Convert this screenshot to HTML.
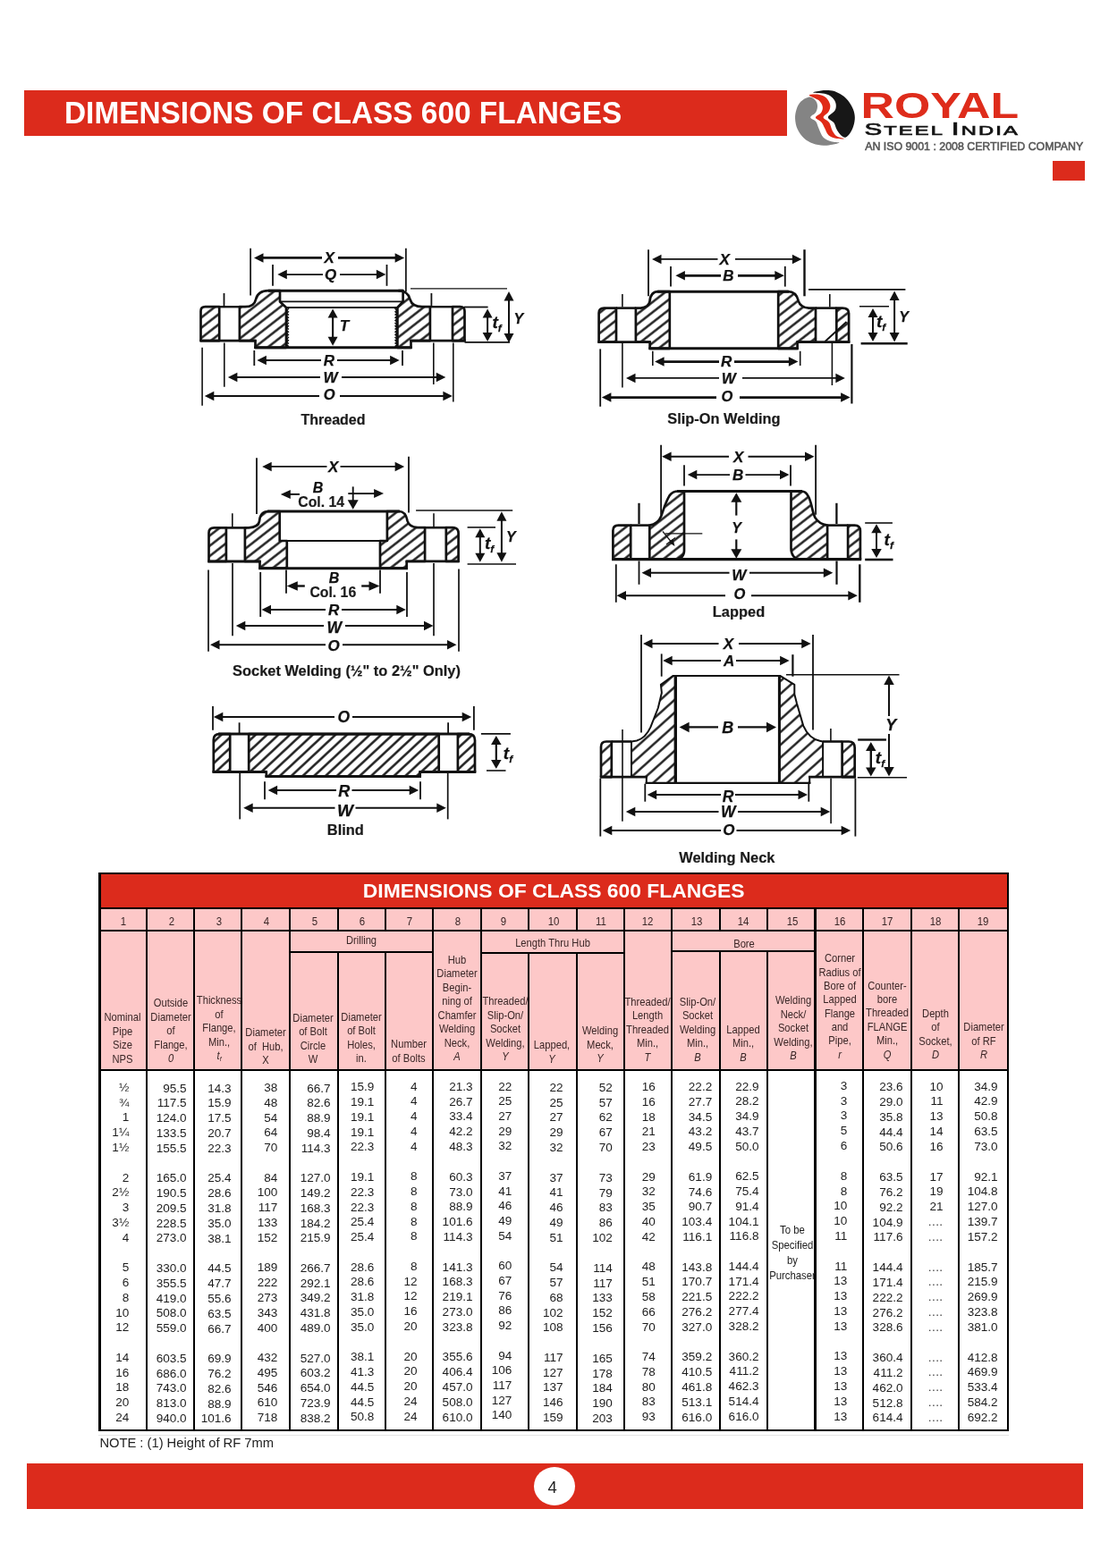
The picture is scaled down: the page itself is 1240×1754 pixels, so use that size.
<!DOCTYPE html>
<html lang="en">
<head>
<meta charset="utf-8">
<title>Dimensions of Class 600 Flanges</title>
<style>
html,body{margin:0;padding:0;background:#fff}
body{width:1240px;height:1754px;overflow:hidden;font-family:"Liberation Sans",sans-serif}
#page{position:relative;width:1240px;height:1754px;overflow:hidden;background:#fff;will-change:transform}
.b{position:absolute}
.t{position:absolute;margin:0;padding:0;white-space:nowrap;font-weight:normal;font-family:"Liberation Sans",sans-serif;color:#231f20}
.bold{font-weight:bold}
.h{color:#3a2626}
.it{font-style:italic}
.d{color:#1d1d1d}
.dots{letter-spacing:.4px;color:#444}
sub{font-size:60%;vertical-align:baseline;position:relative;top:.25em}
svg{position:absolute;left:0;top:0}
svg text{font-family:"Liberation Sans",sans-serif;stroke:none}
svg .bi{font-weight:bold;font-style:italic;fill:#111;stroke:#111;stroke-width:.25px}
svg .cap{font-weight:bold;fill:#1a1a1a;stroke:#1a1a1a;stroke-width:.2px}
svg .ah{stroke:none}
</style>
</head>
<body>
<div id="page">
<div class="b" style="left:27px;top:101px;width:853px;height:51px;background:#dc2b1c;"></div>
<h1 class="t bold" style="top:109.06px;font-size:34.9px;line-height:34.9px;left:72px;transform:scaleX(0.957);transform-origin:left center;color:#fff;">DIMENSIONS OF CLASS 600 FLANGES</h1>
<div class="b" style="left:1177px;top:180px;width:36px;height:21.5px;background:#dc2b1c;"></div>
<svg width="1240" height="1754" viewBox="0 0 1240 1754">
<g id="logo">
<path d="M903.95,108.69 C906.49,108.23 908.81,109.56 910.48,111.01 C912.15,112.46 913.66,115 913.96,117.4 C914.26,119.79 913.6,123.08 912.29,125.38 C910.99,127.68 906.12,129.43 906.12,131.19 C906.12,132.94 910.7,133.73 912.29,135.9 C913.89,138.08 914.31,141.29 915.7,144.25 C917.09,147.21 918.36,151.36 920.64,153.68 C922.91,156.01 926.38,157.22 929.35,158.18 C932.31,159.15 938.18,158.88 938.42,159.49 C938.66,160.09 933.76,161.27 930.8,161.81 C927.84,162.36 924.27,162.96 920.64,162.75 C917.01,162.55 912.66,161.97 909.03,160.58 C905.4,159.19 901.77,157.13 898.87,154.41 C895.97,151.69 893.24,147.88 891.61,144.25 C889.98,140.62 889.25,136.27 889.07,132.64 C888.89,129.01 889.49,125.62 890.52,122.48 C891.55,119.33 893,116.07 895.24,113.77 C897.48,111.47 901.41,109.15 903.95,108.69 Z" fill="#848484"/>
<path d="M909.03,103.61 C908.06,102.98 914.83,101.86 917.74,101.43 C920.64,101.01 923.54,100.83 926.44,101.07 C929.35,101.31 932.37,101.8 935.15,102.89 C937.93,103.97 940.72,105.67 943.13,107.6 C945.55,109.54 947.85,112.02 949.67,114.5 C951.48,116.98 952.99,119.7 954.02,122.48 C955.05,125.26 955.77,128.16 955.83,131.19 C955.9,134.21 955.23,137.72 954.38,140.62 C953.54,143.52 952.27,146.43 950.75,148.6 C949.24,150.78 947.19,153.38 945.31,153.68 C943.44,153.99 941.18,151.99 939.51,150.42 C937.84,148.85 936.48,146.46 935.3,144.25 C934.11,142.04 933.97,139.31 932.39,137.14 C930.82,134.96 925.67,133.45 925.86,131.19 C926.06,128.93 932.1,126.11 933.56,123.57 C935.01,121.03 935.01,118.31 934.57,115.95 C934.14,113.59 932.78,111.21 930.94,109.42 C929.1,107.63 927.19,106.18 923.54,105.21 C919.89,104.24 910,104.24 909.03,103.61 Z" fill="#171717"/>
<path d="M904.67,106.51 C904.79,105.45 913.08,105.45 916.28,105.93 C919.49,106.42 921.91,107.51 923.9,109.42 C925.9,111.33 927.84,114.8 928.26,117.4 C928.68,120 927.71,122.72 926.44,125.02 C925.17,127.32 920.52,129.19 920.64,131.19 C920.76,133.18 925.48,134.45 927.17,136.99 C928.86,139.53 929.35,143.83 930.8,146.43 C932.25,149.03 933.7,151.14 935.88,152.6 C938.06,154.05 944.1,154.76 943.86,155.13 C943.62,155.51 937.33,155.51 934.43,154.84 C931.52,154.18 928.5,153.09 926.44,151.14 C924.39,149.2 923.42,145.58 922.09,143.16 C920.76,140.74 920.15,138.57 918.46,136.63 C916.77,134.69 911.99,133.3 911.93,131.55 C911.87,129.8 916.79,128.16 918.1,126.11 C919.4,124.05 920.19,121.51 919.77,119.21 C919.34,116.92 918.07,114.44 915.56,112.32 C913.04,110.2 904.55,107.58 904.67,106.51 Z" fill="#e02a17"/>
<text x="962.6" y="131.6" font-size="40.6" font-weight="bold" textLength="176.5" lengthAdjust="spacingAndGlyphs" fill="#de2c1b">ROYAL</text>
<text x="966.4" y="151.4" font-size="15.4" letter-spacing="1.4" textLength="173.5" lengthAdjust="spacingAndGlyphs" fill="#141414" style="stroke:#141414;stroke-width:.7px"><tspan font-size="19.2">S</tspan>TEEL <tspan font-size="20.6">I</tspan>NDIA</text>
<text x="967.2" y="167.7" font-size="12.9" textLength="244" lengthAdjust="spacingAndGlyphs" fill="#585858" style="stroke:#585858;stroke-width:.6px">AN ISO 9001 : 2008 CERTIFIED COMPANY</text>
</g>
<defs><pattern id="hp" width="12" height="9" patternUnits="userSpaceOnUse" patternTransform="rotate(-38)"><rect width="12" height="9" fill="#fff"/><line x1="0" y1="4.5" x2="12" y2="4.5" stroke="#111" stroke-width="2.35"/></pattern><pattern id="hp2" width="12" height="8.7" patternUnits="userSpaceOnUse" patternTransform="rotate(-43)"><rect width="12" height="8.7" fill="#fff"/><line x1="0" y1="4.35" x2="12" y2="4.35" stroke="#111" stroke-width="2.4"/></pattern><pattern id="hp3" width="12" height="10.6" patternUnits="userSpaceOnUse" patternTransform="rotate(-42)"><rect width="12" height="10.6" fill="#fff"/><line x1="0" y1="5.3" x2="12" y2="5.3" stroke="#111" stroke-width="2.3"/></pattern></defs>
<g stroke="#111" fill="#111">
<g id="d-threaded">
<line x1="280.1" y1="277.7" x2="280.1" y2="330.5" stroke-width="1.7"/>
<line x1="453.9" y1="277.7" x2="453.9" y2="326" stroke-width="1.7"/>
<line x1="305" y1="296" x2="305" y2="319.8" stroke-width="1.8"/>
<line x1="432.5" y1="296" x2="432.5" y2="319.8" stroke-width="1.8"/>
<line x1="293.5" y1="288.4" x2="360" y2="288.4" stroke-width="2.8"/>
<line x1="378" y1="288.4" x2="442.6" y2="288.4" stroke-width="2.8"/>
<polygon class="ah" points="284,288.4 294.5,283.15 294.5,293.65"/>
<polygon class="ah" points="452.1,288.4 441.6,283.15 441.6,293.65"/>
<text class="bi" x="368.2" y="294.2" font-size="17" text-anchor="middle">X</text>
<line x1="319.8" y1="307.1" x2="361" y2="307.1" stroke-width="1.9"/>
<line x1="380" y1="307.1" x2="421.9" y2="307.1" stroke-width="1.9"/>
<polygon class="ah" points="310.3,307.1 320.8,301.85 320.8,312.35"/>
<polygon class="ah" points="431.4,307.1 420.9,301.85 420.9,312.35"/>
<text class="bi" x="369.6" y="312.8" font-size="17" text-anchor="middle">Q</text>
<path d="M224.5,381.1 L224.5,348 Q224.5,343.2 229.5,343.2 L245.2,343.2 L245.2,381.1 Z" fill="url(#hp)" stroke-width="2.7" stroke-linejoin="round"/>
<path d="M267.9,343.2 L274,343.2 C282,343.2 285,340 286,335 C287.5,329 292,325.2 300,325.2 L313,325.2 L313,337.4 L320,344 L320,388.8 L285.5,388.8 L285.5,381.1 L267.9,381.1 Z" fill="url(#hp)" stroke-width="2.7" stroke-linejoin="round"/>
<path d="M519.5,381.1 L519.5,348 Q519.5,343.2 514.5,343.2 L506,343.2 L506,381.1 Z" fill="url(#hp)" stroke-width="2.7" stroke-linejoin="round"/>
<path d="M480.9,343.2 L472,343.2 C464,343.2 460,340 458.5,335 C457,329 452.5,325.2 446,325.2 L450.6,325.2 L450.6,337.4 L444.4,344 L444.4,388.8 L459.5,388.8 L459.5,381.1 L480.9,381.1 Z" fill="url(#hp)" stroke-width="2.7" stroke-linejoin="round"/>
<path d="M320.6,344 l1.8,1.6 l-1.8,1.6 l1.8,1.6 l-1.8,1.6 l1.8,1.6 l-1.8,1.6 l1.8,1.6 l-1.8,1.6 l1.8,1.6 l-1.8,1.6 l1.8,1.6 l-1.8,1.6 l1.8,1.6 l-1.8,1.6 l1.8,1.6 l-1.8,1.6 l1.8,1.6 l-1.8,1.6 l1.8,1.6 l-1.8,1.6 l1.8,1.6 l-1.8,1.6 l1.8,1.6 l-1.8,1.6 l1.8,1.6 l-1.8,1.6 l1.8,1.6 l-1.8,1.6" fill="none" stroke-width="1.4"/>
<path d="M443.8,344 l-1.8,1.6 l1.8,1.6 l-1.8,1.6 l1.8,1.6 l-1.8,1.6 l1.8,1.6 l-1.8,1.6 l1.8,1.6 l-1.8,1.6 l1.8,1.6 l-1.8,1.6 l1.8,1.6 l-1.8,1.6 l1.8,1.6 l-1.8,1.6 l1.8,1.6 l-1.8,1.6 l1.8,1.6 l-1.8,1.6 l1.8,1.6 l-1.8,1.6 l1.8,1.6 l-1.8,1.6 l1.8,1.6 l-1.8,1.6 l1.8,1.6 l-1.8,1.6 l1.8,1.6" fill="none" stroke-width="1.4"/>
<line x1="300" y1="325.2" x2="450.6" y2="325.2" stroke-width="2.9"/>
<line x1="313" y1="337.4" x2="450.6" y2="337.4" stroke-width="1.8"/>
<line x1="320" y1="344" x2="444.4" y2="344" stroke-width="1.8"/>
<line x1="284.2" y1="388.8" x2="460.8" y2="388.8" stroke-width="2.9"/>
<line x1="245.2" y1="343.2" x2="267.9" y2="343.2" stroke-width="2.4"/>
<line x1="223.3" y1="381.1" x2="286.7" y2="381.1" stroke-width="2.6"/>
<line x1="480.9" y1="343.2" x2="506" y2="343.2" stroke-width="2.4"/>
<line x1="458.3" y1="381.1" x2="520.7" y2="381.1" stroke-width="2.6"/>
<line x1="250.5" y1="328" x2="250.5" y2="343" stroke-width="1.8"/>
<line x1="482.4" y1="328" x2="482.4" y2="343" stroke-width="1.8"/>
<line x1="372.1" y1="354.6" x2="372.1" y2="377.8" stroke-width="2"/>
<polygon class="ah" points="372.1,345.6 366.6,355.6 377.6,355.6"/>
<polygon class="ah" points="372.1,386.8 366.6,376.8 377.6,376.8"/>
<line x1="372.1" y1="354" x2="372.1" y2="378" stroke-width="2"/>
<text class="bi" x="384.9" y="369.6" font-size="17" text-anchor="middle">T</text>
<line x1="284.3" y1="392" x2="284.3" y2="409" stroke-width="1.8"/>
<line x1="450" y1="392" x2="450" y2="409" stroke-width="1.8"/>
<line x1="296.9" y1="403" x2="359" y2="403" stroke-width="2.2"/>
<line x1="377" y1="403" x2="437.1" y2="403" stroke-width="2.2"/>
<polygon class="ah" points="287.4,403 297.9,397.75 297.9,408.25"/>
<polygon class="ah" points="446.6,403 436.1,397.75 436.1,408.25"/>
<text class="bi" x="368" y="408.8" font-size="17" text-anchor="middle">R</text>
<line x1="250.8" y1="383.5" x2="250.8" y2="432.8" stroke-width="1.6"/>
<line x1="484.8" y1="383.5" x2="484.8" y2="430" stroke-width="1.6"/>
<line x1="264.4" y1="422" x2="358" y2="422" stroke-width="1.9"/>
<line x1="382" y1="422" x2="488.8" y2="422" stroke-width="1.9"/>
<polygon class="ah" points="254.9,422 265.4,416.75 265.4,427.25"/>
<polygon class="ah" points="498.3,422 487.8,416.75 487.8,427.25"/>
<text class="bi" x="369.6" y="427.8" font-size="17" text-anchor="middle">W</text>
<line x1="226.1" y1="388.7" x2="226.1" y2="453.8" stroke-width="1.6"/>
<line x1="506.8" y1="383.5" x2="506.8" y2="449.5" stroke-width="1.6"/>
<line x1="238.3" y1="442.9" x2="357" y2="442.9" stroke-width="2"/>
<line x1="380" y1="442.9" x2="496.4" y2="442.9" stroke-width="2"/>
<polygon class="ah" points="228.8,442.9 239.3,437.65 239.3,448.15"/>
<polygon class="ah" points="505.9,442.9 495.4,437.65 495.4,448.15"/>
<text class="bi" x="368.2" y="447" font-size="16.5" text-anchor="middle">O</text>
<line x1="459" y1="322.9" x2="567" y2="322.9" stroke-width="1.4"/>
<line x1="519" y1="343.5" x2="545.6" y2="343.5" stroke-width="1.8"/>
<line x1="519.5" y1="382.9" x2="570" y2="382.9" stroke-width="1.8"/>
<line x1="545.1" y1="354.4" x2="545.1" y2="372.9" stroke-width="2"/>
<polygon class="ah" points="545.1,345.4 539.6,355.4 550.6,355.4"/>
<polygon class="ah" points="545.1,381.9 539.6,371.9 550.6,371.9"/>
<line x1="569" y1="335.4" x2="569" y2="373.9" stroke-width="2"/>
<polygon class="ah" points="569,325.9 563.5,336.4 574.5,336.4"/>
<polygon class="ah" points="569,383.4 563.5,372.9 574.5,372.9"/>
<text class="bi" x="550.5" y="366.5" font-size="19">t<tspan font-size="11.78" dy="4.18">f</tspan></text>
<text class="bi" x="579.8" y="362" font-size="16" text-anchor="middle">Y</text>
<text class="cap" x="372.5" y="475" font-size="16" text-anchor="middle">Threaded</text>
</g>
<g id="d-slipon">
<line x1="725" y1="279.2" x2="725" y2="331.3" stroke-width="1.8"/>
<line x1="899.5" y1="279.2" x2="899.5" y2="331.3" stroke-width="2.4"/>
<line x1="750" y1="297.9" x2="750" y2="320.6" stroke-width="1.8"/>
<line x1="877.8" y1="297.9" x2="877.8" y2="320.6" stroke-width="1.8"/>
<line x1="738.5" y1="289.9" x2="802.5" y2="289.9" stroke-width="1.9"/>
<line x1="822" y1="289.9" x2="886.9" y2="289.9" stroke-width="1.9"/>
<polygon class="ah" points="729,289.9 739.5,284.65 739.5,295.15"/>
<polygon class="ah" points="896.4,289.9 885.9,284.65 885.9,295.15"/>
<text class="bi" x="810.2" y="295.6" font-size="17" text-anchor="middle">X</text>
<line x1="764.9" y1="308.3" x2="806" y2="308.3" stroke-width="2.8"/>
<line x1="825" y1="308.3" x2="867.3" y2="308.3" stroke-width="2.8"/>
<polygon class="ah" points="755.4,308.3 765.9,303.05 765.9,313.55"/>
<polygon class="ah" points="876.8,308.3 866.3,303.05 866.3,313.55"/>
<text class="bi" x="814.5" y="314" font-size="17" text-anchor="middle">B</text>
<path d="M669.6,382.6 L669.6,350 Q669.6,344.6 675.5,344.6 L689,344.6 L689,382.6 Z" fill="url(#hp)" stroke-width="2.7" stroke-linejoin="round"/>
<path d="M710.9,344.6 L716.3,344.6 C723,344 726,341.5 726.5,337 C727,331.5 729.5,326.2 736,326.2 L748.8,326.2 L748.8,389.8 L726.6,389.8 L726.6,382.6 L710.9,382.6 Z" fill="url(#hp)" stroke-width="2.7" stroke-linejoin="round"/>
<path d="M949.1,382.6 L949.1,350.5 Q949.1,344.6 942,344.6 L935.3,344.6 L935.3,382.6 Z" fill="url(#hp)" stroke-width="2.7" stroke-linejoin="round"/>
<path d="M912,344.6 L904.4,344.6 C897,344 894,341 892.9,337 C891.5,331 888,326.2 881,326.2 L870.2,326.2 L870.2,389.8 L891.6,389.8 L891.6,382.6 L912,382.6 Z" fill="url(#hp)" stroke-width="2.7" stroke-linejoin="round"/>
<line x1="922.5" y1="382" x2="946.5" y2="360" stroke-width="1.9"/>
<line x1="735" y1="326.2" x2="882" y2="326.2" stroke-width="2.9"/>
<line x1="725.3" y1="389.8" x2="892.9" y2="389.8" stroke-width="2.9"/>
<line x1="689" y1="344.6" x2="710.9" y2="344.6" stroke-width="2.6"/>
<line x1="668.3" y1="382.6" x2="727.8" y2="382.6" stroke-width="2.8"/>
<line x1="912" y1="344.6" x2="935.3" y2="344.6" stroke-width="2.6"/>
<line x1="890.4" y1="382.6" x2="950.4" y2="382.6" stroke-width="2.8"/>
<line x1="695.9" y1="329" x2="695.9" y2="343.5" stroke-width="1.6"/>
<line x1="927.8" y1="329" x2="927.8" y2="343.5" stroke-width="1.6"/>
<line x1="729.8" y1="392.8" x2="729.8" y2="409" stroke-width="1.6"/>
<line x1="894.7" y1="392.8" x2="894.7" y2="409" stroke-width="1.6"/>
<line x1="741.6" y1="404.6" x2="804" y2="404.6" stroke-width="2.6"/>
<line x1="821" y1="404.6" x2="882.9" y2="404.6" stroke-width="2.6"/>
<polygon class="ah" points="732.1,404.6 742.6,399.35 742.6,409.85"/>
<polygon class="ah" points="892.4,404.6 881.9,399.35 881.9,409.85"/>
<text class="bi" x="812.2" y="410.4" font-size="17" text-anchor="middle">R</text>
<line x1="695.9" y1="383.6" x2="695.9" y2="433.4" stroke-width="1.6"/>
<line x1="930.4" y1="383.6" x2="930.4" y2="431" stroke-width="1.6"/>
<line x1="709.5" y1="422.9" x2="804" y2="422.9" stroke-width="1.9"/>
<line x1="830" y1="422.9" x2="935.4" y2="422.9" stroke-width="1.9"/>
<polygon class="ah" points="700,422.9 710.5,417.65 710.5,428.15"/>
<polygon class="ah" points="944.9,422.9 934.4,417.65 934.4,428.15"/>
<text class="bi" x="814.8" y="428.7" font-size="17" text-anchor="middle">W</text>
<line x1="671.2" y1="390.4" x2="671.2" y2="454.8" stroke-width="1.8"/>
<line x1="952.4" y1="385" x2="952.4" y2="451.5" stroke-width="2.2"/>
<line x1="682.4" y1="444.6" x2="801" y2="444.6" stroke-width="2.6"/>
<line x1="827" y1="444.6" x2="941.1" y2="444.6" stroke-width="2.6"/>
<polygon class="ah" points="672.9,444.6 683.4,439.35 683.4,449.85"/>
<polygon class="ah" points="950.6,444.6 940.1,439.35 940.1,449.85"/>
<text class="bi" x="812.8" y="448.7" font-size="16.5" text-anchor="middle">O</text>
<line x1="904" y1="323.9" x2="1012.4" y2="323.9" stroke-width="1.6"/>
<line x1="961" y1="342.8" x2="994" y2="342.8" stroke-width="1.6"/>
<line x1="962.6" y1="384.2" x2="1014.7" y2="384.2" stroke-width="2.6"/>
<line x1="976" y1="354.1" x2="976" y2="372.9" stroke-width="2"/>
<polygon class="ah" points="976,345.1 970.5,355.1 981.5,355.1"/>
<polygon class="ah" points="976,381.9 970.5,371.9 981.5,371.9"/>
<line x1="1000.1" y1="335" x2="1000.1" y2="373.1" stroke-width="2"/>
<polygon class="ah" points="1000.1,325.5 994.6,336 1005.6,336"/>
<polygon class="ah" points="1000.1,382.6 994.6,372.1 1005.6,372.1"/>
<text class="bi" x="980" y="366" font-size="19">t<tspan font-size="11.78" dy="4.18">f</tspan></text>
<text class="bi" x="1010.6" y="359.8" font-size="16" text-anchor="middle">Y</text>
<text class="cap" x="809.4" y="473.6" font-size="16.4" text-anchor="middle">Slip-On Welding</text>
</g>
<g id="d-socket">
<line x1="287" y1="512.3" x2="287" y2="575.1" stroke-width="1.8"/>
<line x1="457" y1="510.7" x2="457" y2="573.5" stroke-width="1.8"/>
<line x1="302.7" y1="521.9" x2="365.5" y2="521.9" stroke-width="1.9"/>
<line x1="380.5" y1="521.9" x2="442.6" y2="521.9" stroke-width="1.9"/>
<polygon class="ah" points="293.2,521.9 303.7,516.65 303.7,527.15"/>
<polygon class="ah" points="452.1,521.9 441.6,516.65 441.6,527.15"/>
<text class="bi" x="372.6" y="527.7" font-size="17" text-anchor="middle">X</text>
<text class="bi" x="355.6" y="550.6" font-size="16" text-anchor="middle">B</text>
<text class="cap" x="359.2" y="567.4" font-size="15.8" text-anchor="middle">Col. 14</text>
<line x1="323.8" y1="552.9" x2="335" y2="552.9" stroke-width="1.9"/>
<polygon class="ah" points="313.8,552.9 324.8,547.9 324.8,557.9"/>
<line x1="389.3" y1="552.1" x2="419.1" y2="552.1" stroke-width="1.9"/>
<polygon class="ah" points="429.1,552.1 418.1,547.1 418.1,557.1"/>
<line x1="394.7" y1="544.4" x2="394.7" y2="560.2" stroke-width="1.9"/>
<polygon class="ah" points="394.7,569.7 388.7,559.2 400.7,559.2"/>
<path d="M233.5,628 L233.5,596 Q233.5,590.4 239.5,590.4 L252.9,590.4 L252.9,628 Z" fill="url(#hp)" stroke-width="2.7" stroke-linejoin="round"/>
<path d="M273.9,590.4 L278,590.4 C285,590 289.5,587.5 290,583 C290.5,577.5 293,572 300,572 L312.7,572 L312.7,605 L320.8,605 L320.8,635.6 L290.5,635.6 L290.5,628 L273.9,628 Z" fill="url(#hp)" stroke-width="2.7" stroke-linejoin="round"/>
<path d="M512.6,628 L512.6,596.5 Q512.6,590.2 506,590.2 L498.8,590.2 L498.8,628 Z" fill="url(#hp)" stroke-width="2.7" stroke-linejoin="round"/>
<path d="M475.1,590.2 L467,590.2 C460,589.5 456.5,587 455.5,582.5 C454.5,577 452,572 446,572 L432.9,572 L432.9,605 L425,605 L425,635.6 L454.7,635.6 L454.7,628 L475.1,628 Z" fill="url(#hp)" stroke-width="2.7" stroke-linejoin="round"/>
<line x1="299" y1="572" x2="447" y2="572" stroke-width="2.9"/>
<line x1="312.7" y1="605" x2="432.9" y2="605" stroke-width="2"/>
<line x1="289.2" y1="635.7" x2="456" y2="635.7" stroke-width="3.1"/>
<line x1="252.9" y1="590.4" x2="273.9" y2="590.4" stroke-width="2.6"/>
<line x1="232.2" y1="628" x2="291.7" y2="628" stroke-width="2.8"/>
<line x1="475.1" y1="590.2" x2="498.8" y2="590.2" stroke-width="2.6"/>
<line x1="453.5" y1="627.8" x2="513.9" y2="627.8" stroke-width="2.8"/>
<line x1="259.8" y1="574.3" x2="259.8" y2="590" stroke-width="1.6"/>
<line x1="485" y1="574.3" x2="485" y2="590" stroke-width="1.6"/>
<line x1="320" y1="637.5" x2="320" y2="663.8" stroke-width="1.8"/>
<line x1="425" y1="637.5" x2="425" y2="663.8" stroke-width="1.8"/>
<text class="bi" x="373.6" y="651.6" font-size="16" text-anchor="middle">B</text>
<text class="cap" x="372.3" y="667.6" font-size="15.8" text-anchor="middle">Col. 16</text>
<line x1="331.8" y1="655.5" x2="340.8" y2="655.5" stroke-width="2.4"/>
<polygon class="ah" points="320.8,655.5 332.8,650.25 332.8,660.75"/>
<line x1="404.2" y1="655.5" x2="413.5" y2="655.5" stroke-width="2.4"/>
<polygon class="ah" points="424.5,655.5 412.5,650.25 412.5,660.75"/>
<line x1="291.2" y1="640" x2="291.2" y2="690" stroke-width="1.8"/>
<line x1="455" y1="640" x2="455" y2="690" stroke-width="1.8"/>
<line x1="302" y1="682" x2="364" y2="682" stroke-width="2"/>
<line x1="382" y1="682" x2="444.3" y2="682" stroke-width="2"/>
<polygon class="ah" points="292.5,682 303,676.75 303,687.25"/>
<polygon class="ah" points="453.8,682 443.3,676.75 443.3,687.25"/>
<text class="bi" x="373.1" y="687.8" font-size="17" text-anchor="middle">R</text>
<line x1="260" y1="630" x2="260" y2="711.2" stroke-width="1.7"/>
<line x1="485" y1="630" x2="485" y2="711.2" stroke-width="1.7"/>
<line x1="273.3" y1="700" x2="362" y2="700" stroke-width="2"/>
<line x1="386" y1="700" x2="475" y2="700" stroke-width="2"/>
<polygon class="ah" points="263.8,700 274.3,694.75 274.3,705.25"/>
<polygon class="ah" points="484.5,700 474,694.75 474,705.25"/>
<text class="bi" x="373.8" y="707.6" font-size="17.5" text-anchor="middle">W</text>
<line x1="233" y1="637.5" x2="233" y2="728.8" stroke-width="1.7"/>
<line x1="513" y1="636.5" x2="513" y2="728.8" stroke-width="1.7"/>
<line x1="244.5" y1="721.3" x2="364" y2="721.3" stroke-width="2"/>
<line x1="383" y1="721.3" x2="501" y2="721.3" stroke-width="2"/>
<polygon class="ah" points="235,721.3 245.5,716.05 245.5,726.55"/>
<polygon class="ah" points="510.5,721.3 500,716.05 500,726.55"/>
<text class="bi" x="373.2" y="728" font-size="17" text-anchor="middle">O</text>
<line x1="465.1" y1="570.9" x2="573.2" y2="570.9" stroke-width="1.5"/>
<line x1="522.6" y1="589.9" x2="554" y2="589.9" stroke-width="1.6"/>
<line x1="522.6" y1="631" x2="577" y2="631" stroke-width="1.6"/>
<line x1="536.8" y1="600.2" x2="536.8" y2="619.7" stroke-width="2"/>
<polygon class="ah" points="536.8,591.2 531.3,601.2 542.3,601.2"/>
<polygon class="ah" points="536.8,628.7 531.3,618.7 542.3,618.7"/>
<line x1="560.9" y1="581.8" x2="560.9" y2="619.2" stroke-width="2"/>
<polygon class="ah" points="560.9,572.3 555.4,582.8 566.4,582.8"/>
<polygon class="ah" points="560.9,628.7 555.4,618.2 566.4,618.2"/>
<text class="bi" x="542" y="613.5" font-size="19">t<tspan font-size="11.78" dy="4.18">f</tspan></text>
<text class="bi" x="571.4" y="605.8" font-size="16" text-anchor="middle">Y</text>
<text class="cap" x="387.5" y="755.8" font-size="16.4" text-anchor="middle">Socket Welding (½" to 2½" Only)</text>
</g>
<g id="d-lapped">
<line x1="739.1" y1="497.7" x2="739.1" y2="575.8" stroke-width="1.8"/>
<line x1="912.1" y1="497.7" x2="912.1" y2="575.8" stroke-width="1.8"/>
<line x1="749.6" y1="510.7" x2="815" y2="510.7" stroke-width="1.9"/>
<line x1="836.5" y1="510.7" x2="901" y2="510.7" stroke-width="1.9"/>
<polygon class="ah" points="740.1,510.7 750.6,505.45 750.6,515.95"/>
<polygon class="ah" points="910.5,510.7 900,505.45 900,515.95"/>
<text class="bi" x="825.6" y="516.8" font-size="17" text-anchor="middle">X</text>
<line x1="765" y1="520.2" x2="765" y2="543.6" stroke-width="1.8"/>
<line x1="884" y1="520.2" x2="884" y2="543.6" stroke-width="1.8"/>
<line x1="778.3" y1="531.1" x2="816" y2="531.1" stroke-width="1.9"/>
<line x1="833.5" y1="531.1" x2="873" y2="531.1" stroke-width="1.9"/>
<polygon class="ah" points="768.8,531.1 779.3,525.85 779.3,536.35"/>
<polygon class="ah" points="882.5,531.1 872,525.85 872,536.35"/>
<text class="bi" x="825.2" y="536.9" font-size="17" text-anchor="middle">B</text>
<path d="M685.4,625.6 L685.4,593.5 Q685.4,587.6 691.5,587.6 L705.2,587.6 L705.2,625.6 Z" fill="url(#hp)" stroke-width="2.7" stroke-linejoin="round"/>
<path d="M726.3,587.6 C733,586.5 737,583 739,578 C742,570 744,562 748.6,554.4 C751,551 754,549.5 758.5,549.5 L765,549.5 L765,616 C765,622 761,625.6 756,625.6 L726.3,625.6 Z" fill="url(#hp)" stroke-width="2.7" stroke-linejoin="round"/>
<path d="M961.9,625.6 L961.9,594 Q961.9,587.6 955.5,587.6 L948.1,587.6 L948.1,625.6 Z" fill="url(#hp)" stroke-width="2.7" stroke-linejoin="round"/>
<path d="M925.1,587.6 C918,586.5 914,583.5 911.3,578.9 C909,574 908.5,570 907.5,566 C906,560 905,557 903.6,555 C902,551.5 899.5,549.5 896,549.5 L884.5,549.5 L884.5,613 C884.5,620 888,625.6 894,625.6 L925.1,625.6 Z" fill="url(#hp)" stroke-width="2.7" stroke-linejoin="round"/>
<line x1="757" y1="549.5" x2="897" y2="549.5" stroke-width="2.9"/>
<line x1="684.1" y1="625.7" x2="963.2" y2="625.7" stroke-width="3.2"/>
<line x1="705.2" y1="587.6" x2="726.3" y2="587.6" stroke-width="2.6"/>
<line x1="925.1" y1="587.6" x2="948.1" y2="587.6" stroke-width="2.6"/>
<line x1="714.5" y1="562.8" x2="714.5" y2="586" stroke-width="2.3"/>
<line x1="935.4" y1="562.8" x2="935.4" y2="586" stroke-width="2.3"/>
<line x1="823.3" y1="560.8" x2="823.3" y2="576.6" stroke-width="2.2"/>
<line x1="823.3" y1="603.4" x2="823.3" y2="615.3" stroke-width="2.2"/>
<polygon class="ah" points="823.3,551.3 817.3,561.8 829.3,561.8"/>
<polygon class="ah" points="823.3,624.8 817.3,614.3 829.3,614.3"/>
<text class="bi" x="823.6" y="595.8" font-size="16" text-anchor="middle">Y</text>
<line x1="744" y1="596.8" x2="785.3" y2="596.8" stroke-width="1.2"/>
<line x1="741" y1="594.5" x2="752" y2="608" stroke-width="1.2"/>
<line x1="745" y1="609" x2="755" y2="601.5" stroke-width="1.2"/>
<polygon class="ah" points="754.5,611 747.5,606.5 752.5,603"/>
<line x1="714.5" y1="627.5" x2="714.5" y2="653.8" stroke-width="1.8"/>
<line x1="935.5" y1="627.5" x2="935.5" y2="653.8" stroke-width="2.2"/>
<line x1="727" y1="640.8" x2="815.5" y2="640.8" stroke-width="2"/>
<line x1="838" y1="640.8" x2="921.8" y2="640.8" stroke-width="2"/>
<polygon class="ah" points="717.5,640.8 728,635.55 728,646.05"/>
<polygon class="ah" points="931.3,640.8 920.8,635.55 920.8,646.05"/>
<text class="bi" x="826.3" y="648.8" font-size="17" text-anchor="middle">W</text>
<line x1="688.8" y1="631.3" x2="688.8" y2="673.8" stroke-width="1.8"/>
<line x1="961.3" y1="631.3" x2="961.3" y2="673.8" stroke-width="2.4"/>
<line x1="699" y1="666.3" x2="811" y2="666.3" stroke-width="2"/>
<line x1="840" y1="666.3" x2="949.3" y2="666.3" stroke-width="2"/>
<polygon class="ah" points="689.5,666.3 700,661.05 700,671.55"/>
<polygon class="ah" points="958.8,666.3 948.3,661.05 948.3,671.55"/>
<text class="bi" x="826.9" y="670" font-size="16.5" text-anchor="middle">O</text>
<line x1="967.2" y1="585" x2="997.9" y2="585" stroke-width="1.6"/>
<line x1="967.2" y1="626" x2="998.5" y2="626" stroke-width="2.6"/>
<line x1="980" y1="595.2" x2="980" y2="615.1" stroke-width="2"/>
<polygon class="ah" points="980,586.2 974.25,596.2 985.75,596.2"/>
<polygon class="ah" points="980,624.1 974.25,614.1 985.75,614.1"/>
<text class="bi" x="988.6" y="609.5" font-size="19">t<tspan font-size="11.78" dy="4.18">f</tspan></text>
<text class="cap" x="826" y="690.2" font-size="16.4" text-anchor="middle">Lapped</text>
</g>
<g id="d-blind">
<line x1="238" y1="790" x2="238" y2="816.8" stroke-width="1.8"/>
<line x1="529.9" y1="790" x2="529.9" y2="816.8" stroke-width="1.8"/>
<line x1="248.3" y1="801.9" x2="374" y2="801.9" stroke-width="2"/>
<line x1="394" y1="801.9" x2="517.7" y2="801.9" stroke-width="2"/>
<polygon class="ah" points="238.8,801.9 249.3,796.65 249.3,807.15"/>
<polygon class="ah" points="527.2,801.9 516.7,796.65 516.7,807.15"/>
<text class="bi" x="384.4" y="807.8" font-size="17.5" text-anchor="middle">O</text>
<path d="M238.8,863.5 L238.8,827.5 Q238.8,821.1 245.5,821.1 L257.2,821.1 L257.2,863.5 Z" fill="url(#hp2)" stroke-width="2.7" stroke-linejoin="round"/>
<path d="M278.2,821.1 L490.7,821.1 L490.7,863.5 L469.7,863.5 L469.7,868.4 L297.8,868.4 L297.8,863.5 L278.2,863.5 Z" fill="url(#hp2)" stroke-width="2.7" stroke-linejoin="round"/>
<path d="M531,863.5 L531,828 Q531,821.1 524,821.1 L511.9,821.1 L511.9,863.5 Z" fill="url(#hp2)" stroke-width="2.7" stroke-linejoin="round"/>
<line x1="244" y1="821.1" x2="525" y2="821.1" stroke-width="3"/>
<line x1="296.5" y1="868.5" x2="471" y2="868.5" stroke-width="3"/>
<line x1="237.5" y1="863.5" x2="299" y2="863.5" stroke-width="2.9"/>
<line x1="468.4" y1="863.5" x2="532.3" y2="863.5" stroke-width="2.9"/>
<line x1="267.6" y1="808.3" x2="267.6" y2="820.6" stroke-width="1.8"/>
<line x1="501.1" y1="808.3" x2="501.1" y2="820.6" stroke-width="1.8"/>
<line x1="296" y1="874.2" x2="296" y2="894.2" stroke-width="1.8"/>
<line x1="470" y1="874.2" x2="470" y2="894.2" stroke-width="1.8"/>
<line x1="309.1" y1="883.9" x2="376" y2="883.9" stroke-width="2"/>
<line x1="393.5" y1="883.9" x2="458.7" y2="883.9" stroke-width="2"/>
<polygon class="ah" points="299.6,883.9 310.1,878.65 310.1,889.15"/>
<polygon class="ah" points="468.2,883.9 457.7,878.65 457.7,889.15"/>
<text class="bi" x="384.7" y="890.5" font-size="18" text-anchor="middle">R</text>
<line x1="268.2" y1="864.3" x2="268.2" y2="916.4" stroke-width="1.7"/>
<line x1="500.7" y1="864.3" x2="500.7" y2="916.4" stroke-width="1.7"/>
<line x1="281.7" y1="903.7" x2="374.5" y2="903.7" stroke-width="2"/>
<line x1="397.5" y1="903.7" x2="489.3" y2="903.7" stroke-width="2"/>
<polygon class="ah" points="272.2,903.7 282.7,898.45 282.7,908.95"/>
<polygon class="ah" points="498.8,903.7 488.3,898.45 488.3,908.95"/>
<text class="bi" x="385.9" y="912.6" font-size="19" text-anchor="middle">W</text>
<line x1="537.9" y1="820.9" x2="570.9" y2="820.9" stroke-width="1.6"/>
<line x1="544" y1="862" x2="565.5" y2="862" stroke-width="1.6"/>
<line x1="554.8" y1="831.9" x2="554.8" y2="851" stroke-width="2.2"/>
<polygon class="ah" points="554.8,822.9 549.05,832.9 560.55,832.9"/>
<polygon class="ah" points="554.8,860 549.05,850 560.55,850"/>
<text class="bi" x="562.8" y="848.5" font-size="19">t<tspan font-size="11.78" dy="4.18">f</tspan></text>
<text class="cap" x="386.3" y="934" font-size="16.4" text-anchor="middle">Blind</text>
</g>
<g id="d-weldneck">
<line x1="717" y1="710" x2="717" y2="819.5" stroke-width="1.8"/>
<line x1="909" y1="710" x2="909" y2="816.5" stroke-width="1.8"/>
<line x1="728.5" y1="719.9" x2="803.5" y2="719.9" stroke-width="2"/>
<line x1="826" y1="719.9" x2="897.2" y2="719.9" stroke-width="2"/>
<polygon class="ah" points="719,719.9 729.5,714.65 729.5,725.15"/>
<polygon class="ah" points="906.7,719.9 896.2,714.65 896.2,725.15"/>
<text class="bi" x="814.4" y="725.5" font-size="17" text-anchor="middle">X</text>
<line x1="739.7" y1="731.4" x2="739.7" y2="756.7" stroke-width="1.8"/>
<line x1="886.4" y1="732.2" x2="886.4" y2="756.7" stroke-width="2.2"/>
<line x1="750.7" y1="739.1" x2="806" y2="739.1" stroke-width="2"/>
<line x1="823" y1="739.1" x2="873.1" y2="739.1" stroke-width="2"/>
<polygon class="ah" points="741.2,739.1 751.7,733.85 751.7,744.35"/>
<polygon class="ah" points="882.6,739.1 872.1,733.85 872.1,744.35"/>
<text class="bi" x="815.1" y="745.3" font-size="17" text-anchor="middle">A</text>
<path d="M672,869.1 L672,835.5 Q672,829.5 678,829.5 L683.8,829.5 L683.8,869.1 Z" fill="url(#hp3)" stroke-width="2.7" stroke-linejoin="round"/>
<path d="M706,829.5 L712,828.5 C719,826.5 724,821 727.4,813.4 L735.8,792 L739.9,775 L738.9,765.9 L752.7,755.9 L755.3,755.9 L755.3,875.9 L722.8,875.9 L722.8,869.1 L706,869.1 Z" fill="url(#hp3)" stroke-width="2" stroke-linejoin="round"/>
<path d="M955.7,869.1 L955.7,836.5 Q955.7,829.5 949,829.5 L941.6,829.5 L941.6,869.1 Z" fill="url(#hp3)" stroke-width="2.7" stroke-linejoin="round"/>
<path d="M920.1,829.5 L916.6,828.7 C908,827 902,820.5 898.2,811.9 L891,787 L888.3,776.6 L888.3,765.9 L872.2,755.9 L871.4,755.9 L871.4,875.9 L905.2,875.9 L905.2,869.1 L920.1,869.1 Z" fill="url(#hp3)" stroke-width="2" stroke-linejoin="round"/>
<line x1="755.3" y1="755" x2="755.3" y2="876.5" stroke-width="3.4"/>
<line x1="871.4" y1="755" x2="871.4" y2="876.5" stroke-width="3"/>
<line x1="752.5" y1="755.9" x2="873" y2="755.9" stroke-width="2"/>
<line x1="721.6" y1="875.9" x2="906.4" y2="875.9" stroke-width="2.4"/>
<line x1="683.8" y1="829.5" x2="706" y2="829.5" stroke-width="2.6"/>
<line x1="670.8" y1="869.1" x2="724" y2="869.1" stroke-width="2.6"/>
<line x1="920.1" y1="829.5" x2="941.6" y2="829.5" stroke-width="2.6"/>
<line x1="904" y1="869.1" x2="957" y2="869.1" stroke-width="2.6"/>
<line x1="696" y1="816" x2="696" y2="869" stroke-width="1.6"/>
<line x1="928.9" y1="814.9" x2="928.9" y2="829" stroke-width="1.6"/>
<line x1="769.6" y1="813.4" x2="803" y2="813.4" stroke-width="2.4"/>
<line x1="825" y1="813.4" x2="858" y2="813.4" stroke-width="2.4"/>
<polygon class="ah" points="759.6,813.4 770.6,807.65 770.6,819.15"/>
<polygon class="ah" points="868,813.4 857,807.65 857,819.15"/>
<text class="bi" x="813.8" y="819.8" font-size="18" text-anchor="middle">B</text>
<line x1="721.3" y1="876.8" x2="721.3" y2="896.7" stroke-width="1.8"/>
<line x1="904.3" y1="876.8" x2="904.3" y2="896.7" stroke-width="1.8"/>
<line x1="733.2" y1="889" x2="806" y2="889" stroke-width="2"/>
<line x1="822" y1="889" x2="893.5" y2="889" stroke-width="2"/>
<polygon class="ah" points="723.7,889 734.2,883.75 734.2,894.25"/>
<polygon class="ah" points="903,889 892.5,883.75 892.5,894.25"/>
<text class="bi" x="814" y="897.3" font-size="17.5" text-anchor="middle">R</text>
<line x1="695.9" y1="869" x2="695.9" y2="918.8" stroke-width="1.6"/>
<line x1="929.1" y1="870.6" x2="929.1" y2="921.2" stroke-width="1.6"/>
<line x1="709.3" y1="908" x2="803.5" y2="908" stroke-width="2"/>
<line x1="825" y1="908" x2="918.7" y2="908" stroke-width="2"/>
<polygon class="ah" points="699.8,908 710.3,902.75 710.3,913.25"/>
<polygon class="ah" points="928.2,908 917.7,902.75 917.7,913.25"/>
<text class="bi" x="814.2" y="913.6" font-size="17.5" text-anchor="middle">W</text>
<line x1="671.3" y1="870.6" x2="671.3" y2="935.6" stroke-width="1.8"/>
<line x1="956.4" y1="870.6" x2="956.4" y2="935.6" stroke-width="1.8"/>
<line x1="683.3" y1="928.9" x2="806" y2="928.9" stroke-width="2"/>
<line x1="823.5" y1="928.9" x2="941.6" y2="928.9" stroke-width="2"/>
<polygon class="ah" points="673.8,928.9 684.3,923.65 684.3,934.15"/>
<polygon class="ah" points="951.1,928.9 940.6,923.65 940.6,934.15"/>
<text class="bi" x="814.8" y="933.8" font-size="17" text-anchor="middle">O</text>
<line x1="879" y1="754.7" x2="1005.5" y2="754.7" stroke-width="1.5"/>
<line x1="959.2" y1="827.5" x2="990.9" y2="827.5" stroke-width="2.4"/>
<line x1="958.8" y1="869.7" x2="1014" y2="869.7" stroke-width="1.6"/>
<line x1="973.8" y1="839" x2="973.8" y2="859.6" stroke-width="2.4"/>
<polygon class="ah" points="973.8,830 968.05,840 979.55,840"/>
<polygon class="ah" points="973.8,868.6 968.05,858.6 979.55,858.6"/>
<line x1="994" y1="765" x2="994" y2="801.1" stroke-width="2"/>
<line x1="994" y1="821" x2="994" y2="859.1" stroke-width="2"/>
<polygon class="ah" points="994,755.5 988.25,766 999.75,766"/>
<polygon class="ah" points="994,868.6 988.25,858.1 999.75,858.1"/>
<text class="bi" x="996.2" y="816.6" font-size="18" text-anchor="middle">Y</text>
<text class="bi" x="978.8" y="853.5" font-size="19">t<tspan font-size="11.78" dy="4.18">f</tspan></text>
<text class="cap" x="812.8" y="964.7" font-size="16.4" text-anchor="middle">Welding Neck</text>
</g>
</g>
</svg>
<div class="b" style="left:110px;top:976px;width:1018px;height:624.5px;background:#fff;"></div>
<div class="b" style="left:110px;top:976px;width:1018px;height:40px;background:#dc2b1c;"></div>
<div class="b" style="left:110px;top:1016px;width:1018px;height:181px;background:#fdc8c8;"></div>
<div class="b" style="left:110px;top:975.75px;width:1018px;height:2.25px;background:#000;"></div>
<div class="b" style="left:110px;top:975.75px;width:3px;height:624.75px;background:#000;"></div>
<div class="b" style="left:1126.2px;top:975.75px;width:1.8px;height:624.75px;background:#000;"></div>
<div class="b" style="left:110px;top:1598.75px;width:1018px;height:1.75px;background:#000;"></div>
<div class="b" style="left:110px;top:1604.6px;width:1018px;height:0.8px;background:#e4e4e4;"></div>
<div class="b" style="left:110px;top:1015px;width:1018px;height:1.8px;background:#000;"></div>
<div class="b" style="left:110px;top:1040px;width:1018px;height:1.8px;background:#000;"></div>
<div class="b" style="left:110px;top:1195.75px;width:1018px;height:1.75px;background:#000;"></div>
<div class="b" style="left:324px;top:1064.2px;width:160px;height:1.8px;background:#000;"></div>
<div class="b" style="left:537.75px;top:1064.9px;width:160.25px;height:1.8px;background:#000;"></div>
<div class="b" style="left:751px;top:1062.9px;width:160.5px;height:1.8px;background:#000;"></div>
<div class="b" style="left:163px;top:1016px;width:2px;height:583px;background:#000;"></div>
<div class="b" style="left:216px;top:1016px;width:2px;height:583px;background:#000;"></div>
<div class="b" style="left:269px;top:1016px;width:2px;height:583px;background:#000;"></div>
<div class="b" style="left:323px;top:1016px;width:2px;height:583px;background:#000;"></div>
<div class="b" style="left:377px;top:1016px;width:2px;height:25px;background:#000;"></div>
<div class="b" style="left:377px;top:1065px;width:2px;height:534px;background:#000;"></div>
<div class="b" style="left:430px;top:1016px;width:2px;height:25px;background:#000;"></div>
<div class="b" style="left:430px;top:1065px;width:2px;height:534px;background:#000;"></div>
<div class="b" style="left:483px;top:1016px;width:2px;height:583px;background:#000;"></div>
<div class="b" style="left:537px;top:1016px;width:2px;height:583px;background:#000;"></div>
<div class="b" style="left:590px;top:1016px;width:2px;height:25px;background:#000;"></div>
<div class="b" style="left:590px;top:1065.5px;width:2px;height:533.5px;background:#000;"></div>
<div class="b" style="left:644px;top:1016px;width:2px;height:25px;background:#000;"></div>
<div class="b" style="left:644px;top:1065.5px;width:2px;height:533.5px;background:#000;"></div>
<div class="b" style="left:697px;top:1016px;width:2px;height:583px;background:#000;"></div>
<div class="b" style="left:750px;top:1016px;width:2px;height:583px;background:#000;"></div>
<div class="b" style="left:804px;top:1016px;width:2px;height:25px;background:#000;"></div>
<div class="b" style="left:804px;top:1063.5px;width:2px;height:535.5px;background:#000;"></div>
<div class="b" style="left:857px;top:1016px;width:2px;height:25px;background:#000;"></div>
<div class="b" style="left:857px;top:1063.5px;width:2px;height:535.5px;background:#000;"></div>
<div class="b" style="left:910px;top:1016px;width:3px;height:583px;background:#000;"></div>
<div class="b" style="left:964px;top:1016px;width:2px;height:583px;background:#000;"></div>
<div class="b" style="left:1018px;top:1016px;width:2px;height:583px;background:#000;"></div>
<div class="b" style="left:1071px;top:1016px;width:2px;height:583px;background:#000;"></div>
<h2 class="t bold" style="top:984.94px;font-size:22.87px;line-height:22.87px;left:619.2px;transform:translateX(-50%);transform-origin:center center;color:#fff;">DIMENSIONS OF CLASS 600 FLANGES</h2>
<span class="t h" style="top:1024px;font-size:13px;line-height:13px;left:138.25px;transform:translateX(-50%) scaleX(0.88);transform-origin:center center;">1</span>
<span class="t h" style="top:1024px;font-size:13px;line-height:13px;left:191.75px;transform:translateX(-50%) scaleX(0.88);transform-origin:center center;">2</span>
<span class="t h" style="top:1024px;font-size:13px;line-height:13px;left:244.5px;transform:translateX(-50%) scaleX(0.88);transform-origin:center center;">3</span>
<span class="t h" style="top:1024px;font-size:13px;line-height:13px;left:298.25px;transform:translateX(-50%) scaleX(0.88);transform-origin:center center;">4</span>
<span class="t h" style="top:1024px;font-size:13px;line-height:13px;left:351.75px;transform:translateX(-50%) scaleX(0.88);transform-origin:center center;">5</span>
<span class="t h" style="top:1024px;font-size:13px;line-height:13px;left:405px;transform:translateX(-50%) scaleX(0.88);transform-origin:center center;">6</span>
<span class="t h" style="top:1024px;font-size:13px;line-height:13px;left:457.5px;transform:translateX(-50%) scaleX(0.88);transform-origin:center center;">7</span>
<span class="t h" style="top:1024px;font-size:13px;line-height:13px;left:511.75px;transform:translateX(-50%) scaleX(0.88);transform-origin:center center;">8</span>
<span class="t h" style="top:1024px;font-size:13px;line-height:13px;left:562.5px;transform:translateX(-50%) scaleX(0.88);transform-origin:center center;">9</span>
<span class="t h" style="top:1024px;font-size:13px;line-height:13px;left:619.25px;transform:translateX(-50%) scaleX(0.88);transform-origin:center center;">10</span>
<span class="t h" style="top:1024px;font-size:13px;line-height:13px;left:672px;transform:translateX(-50%) scaleX(0.88);transform-origin:center center;">11</span>
<span class="t h" style="top:1024px;font-size:13px;line-height:13px;left:724.25px;transform:translateX(-50%) scaleX(0.88);transform-origin:center center;">12</span>
<span class="t h" style="top:1024px;font-size:13px;line-height:13px;left:778.75px;transform:translateX(-50%) scaleX(0.88);transform-origin:center center;">13</span>
<span class="t h" style="top:1024px;font-size:13px;line-height:13px;left:831.25px;transform:translateX(-50%) scaleX(0.88);transform-origin:center center;">14</span>
<span class="t h" style="top:1024px;font-size:13px;line-height:13px;left:885.75px;transform:translateX(-50%) scaleX(0.88);transform-origin:center center;">15</span>
<span class="t h" style="top:1024px;font-size:13px;line-height:13px;left:938.75px;transform:translateX(-50%) scaleX(0.88);transform-origin:center center;">16</span>
<span class="t h" style="top:1024px;font-size:13px;line-height:13px;left:991.75px;transform:translateX(-50%) scaleX(0.88);transform-origin:center center;">17</span>
<span class="t h" style="top:1024px;font-size:13px;line-height:13px;left:1046.25px;transform:translateX(-50%) scaleX(0.88);transform-origin:center center;">18</span>
<span class="t h" style="top:1024px;font-size:13px;line-height:13px;left:1099.25px;transform:translateX(-50%) scaleX(0.88);transform-origin:center center;">19</span>
<span class="t h" style="top:1044.96px;font-size:13.4px;line-height:13.4px;left:404px;transform:translateX(-50%) scaleX(0.835);transform-origin:center center;">Drilling</span>
<span class="t h" style="top:1048.26px;font-size:13.4px;line-height:13.4px;left:618px;transform:translateX(-50%) scaleX(0.835);transform-origin:center center;">Length Thru Hub</span>
<span class="t h" style="top:1048.66px;font-size:13.4px;line-height:13.4px;left:831.8px;transform:translateX(-50%) scaleX(0.835);transform-origin:center center;">Bore</span>
<span class="t h" style="top:1131.16px;font-size:13.4px;line-height:13.4px;left:137.3px;transform:translateX(-50%) scaleX(0.835);transform-origin:center center;">Nominal</span>
<span class="t h" style="top:1146.66px;font-size:13.4px;line-height:13.4px;left:137.3px;transform:translateX(-50%) scaleX(0.835);transform-origin:center center;">Pipe</span>
<span class="t h" style="top:1162.16px;font-size:13.4px;line-height:13.4px;left:137.3px;transform:translateX(-50%) scaleX(0.835);transform-origin:center center;">Size</span>
<span class="t h" style="top:1177.66px;font-size:13.4px;line-height:13.4px;left:137.3px;transform:translateX(-50%) scaleX(0.835);transform-origin:center center;">NPS</span>
<span class="t h" style="top:1115.06px;font-size:13.4px;line-height:13.4px;left:191.2px;transform:translateX(-50%) scaleX(0.835);transform-origin:center center;">Outside</span>
<span class="t h" style="top:1130.56px;font-size:13.4px;line-height:13.4px;left:191.2px;transform:translateX(-50%) scaleX(0.835);transform-origin:center center;">Diameter</span>
<span class="t h" style="top:1146.06px;font-size:13.4px;line-height:13.4px;left:191.2px;transform:translateX(-50%) scaleX(0.835);transform-origin:center center;">of</span>
<span class="t h" style="top:1161.56px;font-size:13.4px;line-height:13.4px;left:191.2px;transform:translateX(-50%) scaleX(0.835);transform-origin:center center;">Flange,</span>
<span class="t h it" style="top:1177.06px;font-size:13.4px;line-height:13.4px;left:191.2px;transform:translateX(-50%) scaleX(0.835);transform-origin:center center;">0</span>
<span class="t h" style="top:1112.26px;font-size:13.4px;line-height:13.4px;left:245px;transform:translateX(-50%) scaleX(0.835);transform-origin:center center;">Thickness</span>
<span class="t h" style="top:1127.76px;font-size:13.4px;line-height:13.4px;left:245px;transform:translateX(-50%) scaleX(0.835);transform-origin:center center;">of</span>
<span class="t h" style="top:1143.26px;font-size:13.4px;line-height:13.4px;left:245px;transform:translateX(-50%) scaleX(0.835);transform-origin:center center;">Flange,</span>
<span class="t h" style="top:1158.76px;font-size:13.4px;line-height:13.4px;left:245px;transform:translateX(-50%) scaleX(0.835);transform-origin:center center;">Min.,</span>
<span class="t h it" style="left:245px;top:1174.26px;font-size:13.4px;line-height:13.4px;transform:translateX(-50%) scaleX(.835)">t<sub>f</sub></span>
<span class="t h" style="top:1148.26px;font-size:13.4px;line-height:13.4px;left:297px;transform:translateX(-50%) scaleX(0.835);transform-origin:center center;">Diameter</span>
<span class="t h" style="top:1163.76px;font-size:13.4px;line-height:13.4px;left:297px;transform:translateX(-50%) scaleX(0.835);transform-origin:center center;">of  Hub,</span>
<span class="t h" style="top:1179.26px;font-size:13.4px;line-height:13.4px;left:297px;transform:translateX(-50%) scaleX(0.835);transform-origin:center center;">X</span>
<span class="t h" style="top:1131.56px;font-size:13.4px;line-height:13.4px;left:350px;transform:translateX(-50%) scaleX(0.835);transform-origin:center center;">Diameter</span>
<span class="t h" style="top:1147.06px;font-size:13.4px;line-height:13.4px;left:350px;transform:translateX(-50%) scaleX(0.835);transform-origin:center center;">of Bolt</span>
<span class="t h" style="top:1162.56px;font-size:13.4px;line-height:13.4px;left:350px;transform:translateX(-50%) scaleX(0.835);transform-origin:center center;">Circle</span>
<span class="t h" style="top:1178.06px;font-size:13.4px;line-height:13.4px;left:350px;transform:translateX(-50%) scaleX(0.835);transform-origin:center center;">W</span>
<span class="t h" style="top:1130.76px;font-size:13.4px;line-height:13.4px;left:403.5px;transform:translateX(-50%) scaleX(0.835);transform-origin:center center;">Diameter</span>
<span class="t h" style="top:1146.26px;font-size:13.4px;line-height:13.4px;left:403.5px;transform:translateX(-50%) scaleX(0.835);transform-origin:center center;">of Bolt</span>
<span class="t h" style="top:1161.76px;font-size:13.4px;line-height:13.4px;left:403.5px;transform:translateX(-50%) scaleX(0.835);transform-origin:center center;">Holes,</span>
<span class="t h" style="top:1177.26px;font-size:13.4px;line-height:13.4px;left:403.5px;transform:translateX(-50%) scaleX(0.835);transform-origin:center center;">in.</span>
<span class="t h" style="top:1160.86px;font-size:13.4px;line-height:13.4px;left:456.5px;transform:translateX(-50%) scaleX(0.835);transform-origin:center center;">Number</span>
<span class="t h" style="top:1176.76px;font-size:13.4px;line-height:13.4px;left:456.5px;transform:translateX(-50%) scaleX(0.835);transform-origin:center center;">of Bolts</span>
<span class="t h" style="top:1066.76px;font-size:13.4px;line-height:13.4px;left:511px;transform:translateX(-50%) scaleX(0.835);transform-origin:center center;">Hub</span>
<span class="t h" style="top:1082.26px;font-size:13.4px;line-height:13.4px;left:511px;transform:translateX(-50%) scaleX(0.835);transform-origin:center center;">Diameter</span>
<span class="t h" style="top:1097.76px;font-size:13.4px;line-height:13.4px;left:511px;transform:translateX(-50%) scaleX(0.835);transform-origin:center center;">Begin-</span>
<span class="t h" style="top:1113.26px;font-size:13.4px;line-height:13.4px;left:511px;transform:translateX(-50%) scaleX(0.835);transform-origin:center center;">ning of</span>
<span class="t h" style="top:1128.76px;font-size:13.4px;line-height:13.4px;left:511px;transform:translateX(-50%) scaleX(0.835);transform-origin:center center;">Chamfer</span>
<span class="t h" style="top:1144.26px;font-size:13.4px;line-height:13.4px;left:511px;transform:translateX(-50%) scaleX(0.835);transform-origin:center center;">Welding</span>
<span class="t h" style="top:1159.76px;font-size:13.4px;line-height:13.4px;left:511px;transform:translateX(-50%) scaleX(0.835);transform-origin:center center;">Neck,</span>
<span class="t h it" style="top:1175.26px;font-size:13.4px;line-height:13.4px;left:511px;transform:translateX(-50%) scaleX(0.835);transform-origin:center center;">A</span>
<span class="t h" style="top:1113.06px;font-size:13.4px;line-height:13.4px;left:565px;transform:translateX(-50%) scaleX(0.835);transform-origin:center center;">Threaded/</span>
<span class="t h" style="top:1128.56px;font-size:13.4px;line-height:13.4px;left:565px;transform:translateX(-50%) scaleX(0.835);transform-origin:center center;">Slip-On/</span>
<span class="t h" style="top:1144.06px;font-size:13.4px;line-height:13.4px;left:565px;transform:translateX(-50%) scaleX(0.835);transform-origin:center center;">Socket</span>
<span class="t h" style="top:1159.56px;font-size:13.4px;line-height:13.4px;left:565px;transform:translateX(-50%) scaleX(0.835);transform-origin:center center;">Welding,</span>
<span class="t h it" style="top:1175.06px;font-size:13.4px;line-height:13.4px;left:565px;transform:translateX(-50%) scaleX(0.835);transform-origin:center center;">Y</span>
<span class="t h" style="top:1162.46px;font-size:13.4px;line-height:13.4px;left:617px;transform:translateX(-50%) scaleX(0.835);transform-origin:center center;">Lapped,</span>
<span class="t h it" style="top:1177.76px;font-size:13.4px;line-height:13.4px;left:617px;transform:translateX(-50%) scaleX(0.835);transform-origin:center center;">Y</span>
<span class="t h" style="top:1146.26px;font-size:13.4px;line-height:13.4px;left:671px;transform:translateX(-50%) scaleX(0.835);transform-origin:center center;">Welding</span>
<span class="t h" style="top:1161.76px;font-size:13.4px;line-height:13.4px;left:671px;transform:translateX(-50%) scaleX(0.835);transform-origin:center center;">Meck,</span>
<span class="t h it" style="top:1177.26px;font-size:13.4px;line-height:13.4px;left:671px;transform:translateX(-50%) scaleX(0.835);transform-origin:center center;">Y</span>
<span class="t h" style="top:1113.66px;font-size:13.4px;line-height:13.4px;left:724px;transform:translateX(-50%) scaleX(0.835);transform-origin:center center;">Threaded/</span>
<span class="t h" style="top:1129.16px;font-size:13.4px;line-height:13.4px;left:724px;transform:translateX(-50%) scaleX(0.835);transform-origin:center center;">Length</span>
<span class="t h" style="top:1144.66px;font-size:13.4px;line-height:13.4px;left:724px;transform:translateX(-50%) scaleX(0.835);transform-origin:center center;">Threaded</span>
<span class="t h" style="top:1160.16px;font-size:13.4px;line-height:13.4px;left:724px;transform:translateX(-50%) scaleX(0.835);transform-origin:center center;">Min.,</span>
<span class="t h it" style="top:1175.66px;font-size:13.4px;line-height:13.4px;left:724px;transform:translateX(-50%) scaleX(0.835);transform-origin:center center;">T</span>
<span class="t h" style="top:1113.66px;font-size:13.4px;line-height:13.4px;left:780px;transform:translateX(-50%) scaleX(0.835);transform-origin:center center;">Slip-On/</span>
<span class="t h" style="top:1129.16px;font-size:13.4px;line-height:13.4px;left:780px;transform:translateX(-50%) scaleX(0.835);transform-origin:center center;">Socket</span>
<span class="t h" style="top:1144.66px;font-size:13.4px;line-height:13.4px;left:780px;transform:translateX(-50%) scaleX(0.835);transform-origin:center center;">Welding</span>
<span class="t h" style="top:1160.16px;font-size:13.4px;line-height:13.4px;left:780px;transform:translateX(-50%) scaleX(0.835);transform-origin:center center;">Min.,</span>
<span class="t h it" style="top:1175.66px;font-size:13.4px;line-height:13.4px;left:780px;transform:translateX(-50%) scaleX(0.835);transform-origin:center center;">B</span>
<span class="t h" style="top:1144.66px;font-size:13.4px;line-height:13.4px;left:830.5px;transform:translateX(-50%) scaleX(0.835);transform-origin:center center;">Lapped</span>
<span class="t h" style="top:1160.16px;font-size:13.4px;line-height:13.4px;left:830.5px;transform:translateX(-50%) scaleX(0.835);transform-origin:center center;">Min.,</span>
<span class="t h it" style="top:1175.66px;font-size:13.4px;line-height:13.4px;left:830.5px;transform:translateX(-50%) scaleX(0.835);transform-origin:center center;">B</span>
<span class="t h" style="top:1112.46px;font-size:13.4px;line-height:13.4px;left:886.5px;transform:translateX(-50%) scaleX(0.835);transform-origin:center center;">Welding</span>
<span class="t h" style="top:1127.96px;font-size:13.4px;line-height:13.4px;left:886.5px;transform:translateX(-50%) scaleX(0.835);transform-origin:center center;">Neck/</span>
<span class="t h" style="top:1143.46px;font-size:13.4px;line-height:13.4px;left:886.5px;transform:translateX(-50%) scaleX(0.835);transform-origin:center center;">Socket</span>
<span class="t h" style="top:1158.96px;font-size:13.4px;line-height:13.4px;left:886.5px;transform:translateX(-50%) scaleX(0.835);transform-origin:center center;">Welding,</span>
<span class="t h it" style="top:1174.46px;font-size:13.4px;line-height:13.4px;left:886.5px;transform:translateX(-50%) scaleX(0.835);transform-origin:center center;">B</span>
<span class="t h" style="top:1065.14px;font-size:13.4px;line-height:13.4px;left:938.5px;transform:translateX(-50%) scaleX(0.835);transform-origin:center center;">Corner</span>
<span class="t h" style="top:1080.5px;font-size:13.4px;line-height:13.4px;left:938.5px;transform:translateX(-50%) scaleX(0.835);transform-origin:center center;">Radius of</span>
<span class="t h" style="top:1095.86px;font-size:13.4px;line-height:13.4px;left:938.5px;transform:translateX(-50%) scaleX(0.835);transform-origin:center center;">Bore of</span>
<span class="t h" style="top:1111.22px;font-size:13.4px;line-height:13.4px;left:938.5px;transform:translateX(-50%) scaleX(0.835);transform-origin:center center;">Lapped</span>
<span class="t h" style="top:1126.58px;font-size:13.4px;line-height:13.4px;left:938.5px;transform:translateX(-50%) scaleX(0.835);transform-origin:center center;">Flange</span>
<span class="t h" style="top:1141.94px;font-size:13.4px;line-height:13.4px;left:938.5px;transform:translateX(-50%) scaleX(0.835);transform-origin:center center;">and</span>
<span class="t h" style="top:1157.3px;font-size:13.4px;line-height:13.4px;left:938.5px;transform:translateX(-50%) scaleX(0.835);transform-origin:center center;">Pipe,</span>
<span class="t h it" style="top:1172.66px;font-size:13.4px;line-height:13.4px;left:938.5px;transform:translateX(-50%) scaleX(0.835);transform-origin:center center;">r</span>
<span class="t h" style="top:1095.66px;font-size:13.4px;line-height:13.4px;left:992px;transform:translateX(-50%) scaleX(0.835);transform-origin:center center;">Counter-</span>
<span class="t h" style="top:1111.06px;font-size:13.4px;line-height:13.4px;left:992px;transform:translateX(-50%) scaleX(0.835);transform-origin:center center;">bore</span>
<span class="t h" style="top:1126.46px;font-size:13.4px;line-height:13.4px;left:992px;transform:translateX(-50%) scaleX(0.835);transform-origin:center center;">Threaded</span>
<span class="t h" style="top:1141.86px;font-size:13.4px;line-height:13.4px;left:992px;transform:translateX(-50%) scaleX(0.835);transform-origin:center center;">FLANGE</span>
<span class="t h" style="top:1157.26px;font-size:13.4px;line-height:13.4px;left:992px;transform:translateX(-50%) scaleX(0.835);transform-origin:center center;">Min.,</span>
<span class="t h it" style="top:1172.66px;font-size:13.4px;line-height:13.4px;left:992px;transform:translateX(-50%) scaleX(0.835);transform-origin:center center;">Q</span>
<span class="t h" style="top:1126.96px;font-size:13.4px;line-height:13.4px;left:1046px;transform:translateX(-50%) scaleX(0.835);transform-origin:center center;">Depth</span>
<span class="t h" style="top:1142.46px;font-size:13.4px;line-height:13.4px;left:1046px;transform:translateX(-50%) scaleX(0.835);transform-origin:center center;">of</span>
<span class="t h" style="top:1157.96px;font-size:13.4px;line-height:13.4px;left:1046px;transform:translateX(-50%) scaleX(0.835);transform-origin:center center;">Socket,</span>
<span class="t h it" style="top:1173.46px;font-size:13.4px;line-height:13.4px;left:1046px;transform:translateX(-50%) scaleX(0.835);transform-origin:center center;">D</span>
<span class="t h" style="top:1142.46px;font-size:13.4px;line-height:13.4px;left:1099.5px;transform:translateX(-50%) scaleX(0.835);transform-origin:center center;">Diameter</span>
<span class="t h" style="top:1157.96px;font-size:13.4px;line-height:13.4px;left:1099.5px;transform:translateX(-50%) scaleX(0.835);transform-origin:center center;">of RF</span>
<span class="t h it" style="top:1173.46px;font-size:13.4px;line-height:13.4px;left:1099.5px;transform:translateX(-50%) scaleX(0.835);transform-origin:center center;">R</span>
<span class="t d" style="top:1209.83px;font-size:13.55px;line-height:13.55px;right:1095.8px;">½</span>
<span class="t d" style="top:1226.61px;font-size:13.55px;line-height:13.55px;right:1095.8px;">¾</span>
<span class="t d" style="top:1243.39px;font-size:13.55px;line-height:13.55px;right:1095.8px;">1</span>
<span class="t d" style="top:1260.17px;font-size:13.55px;line-height:13.55px;right:1095.8px;">1¼</span>
<span class="t d" style="top:1276.95px;font-size:13.55px;line-height:13.55px;right:1095.8px;">1½</span>
<span class="t d" style="top:1310.51px;font-size:13.55px;line-height:13.55px;right:1095.8px;">2</span>
<span class="t d" style="top:1327.29px;font-size:13.55px;line-height:13.55px;right:1095.8px;">2½</span>
<span class="t d" style="top:1344.07px;font-size:13.55px;line-height:13.55px;right:1095.8px;">3</span>
<span class="t d" style="top:1360.85px;font-size:13.55px;line-height:13.55px;right:1095.8px;">3½</span>
<span class="t d" style="top:1377.63px;font-size:13.55px;line-height:13.55px;right:1095.8px;">4</span>
<span class="t d" style="top:1411.19px;font-size:13.55px;line-height:13.55px;right:1095.8px;">5</span>
<span class="t d" style="top:1427.97px;font-size:13.55px;line-height:13.55px;right:1095.8px;">6</span>
<span class="t d" style="top:1444.75px;font-size:13.55px;line-height:13.55px;right:1095.8px;">8</span>
<span class="t d" style="top:1461.53px;font-size:13.55px;line-height:13.55px;right:1095.8px;">10</span>
<span class="t d" style="top:1478.31px;font-size:13.55px;line-height:13.55px;right:1095.8px;">12</span>
<span class="t d" style="top:1511.87px;font-size:13.55px;line-height:13.55px;right:1095.8px;">14</span>
<span class="t d" style="top:1528.65px;font-size:13.55px;line-height:13.55px;right:1095.8px;">16</span>
<span class="t d" style="top:1545.43px;font-size:13.55px;line-height:13.55px;right:1095.8px;">18</span>
<span class="t d" style="top:1562.21px;font-size:13.55px;line-height:13.55px;right:1095.8px;">20</span>
<span class="t d" style="top:1578.99px;font-size:13.55px;line-height:13.55px;right:1095.8px;">24</span>
<span class="t d" style="top:1210.53px;font-size:13.55px;line-height:13.55px;right:1031.4px;">95.5</span>
<span class="t d" style="top:1227.32px;font-size:13.55px;line-height:13.55px;right:1031.4px;">117.5</span>
<span class="t d" style="top:1244.12px;font-size:13.55px;line-height:13.55px;right:1031.4px;">124.0</span>
<span class="t d" style="top:1260.91px;font-size:13.55px;line-height:13.55px;right:1031.4px;">133.5</span>
<span class="t d" style="top:1277.7px;font-size:13.55px;line-height:13.55px;right:1031.4px;">155.5</span>
<span class="t d" style="top:1311.29px;font-size:13.55px;line-height:13.55px;right:1031.4px;">165.0</span>
<span class="t d" style="top:1328.09px;font-size:13.55px;line-height:13.55px;right:1031.4px;">190.5</span>
<span class="t d" style="top:1344.88px;font-size:13.55px;line-height:13.55px;right:1031.4px;">209.5</span>
<span class="t d" style="top:1361.67px;font-size:13.55px;line-height:13.55px;right:1031.4px;">228.5</span>
<span class="t d" style="top:1378.47px;font-size:13.55px;line-height:13.55px;right:1031.4px;">273.0</span>
<span class="t d" style="top:1412.05px;font-size:13.55px;line-height:13.55px;right:1031.4px;">330.0</span>
<span class="t d" style="top:1428.85px;font-size:13.55px;line-height:13.55px;right:1031.4px;">355.5</span>
<span class="t d" style="top:1445.64px;font-size:13.55px;line-height:13.55px;right:1031.4px;">419.0</span>
<span class="t d" style="top:1462.43px;font-size:13.55px;line-height:13.55px;right:1031.4px;">508.0</span>
<span class="t d" style="top:1479.23px;font-size:13.55px;line-height:13.55px;right:1031.4px;">559.0</span>
<span class="t d" style="top:1512.82px;font-size:13.55px;line-height:13.55px;right:1031.4px;">603.5</span>
<span class="t d" style="top:1529.61px;font-size:13.55px;line-height:13.55px;right:1031.4px;">686.0</span>
<span class="t d" style="top:1546.4px;font-size:13.55px;line-height:13.55px;right:1031.4px;">743.0</span>
<span class="t d" style="top:1563.2px;font-size:13.55px;line-height:13.55px;right:1031.4px;">813.0</span>
<span class="t d" style="top:1579.99px;font-size:13.55px;line-height:13.55px;right:1031.4px;">940.0</span>
<span class="t d" style="top:1210.53px;font-size:13.55px;line-height:13.55px;right:981.4px;">14.3</span>
<span class="t d" style="top:1227.34px;font-size:13.55px;line-height:13.55px;right:981.4px;">15.9</span>
<span class="t d" style="top:1244.15px;font-size:13.55px;line-height:13.55px;right:981.4px;">17.5</span>
<span class="t d" style="top:1260.97px;font-size:13.55px;line-height:13.55px;right:981.4px;">20.7</span>
<span class="t d" style="top:1277.78px;font-size:13.55px;line-height:13.55px;right:981.4px;">22.3</span>
<span class="t d" style="top:1311.4px;font-size:13.55px;line-height:13.55px;right:981.4px;">25.4</span>
<span class="t d" style="top:1328.21px;font-size:13.55px;line-height:13.55px;right:981.4px;">28.6</span>
<span class="t d" style="top:1345.02px;font-size:13.55px;line-height:13.55px;right:981.4px;">31.8</span>
<span class="t d" style="top:1361.84px;font-size:13.55px;line-height:13.55px;right:981.4px;">35.0</span>
<span class="t d" style="top:1378.65px;font-size:13.55px;line-height:13.55px;right:981.4px;">38.1</span>
<span class="t d" style="top:1412.27px;font-size:13.55px;line-height:13.55px;right:981.4px;">44.5</span>
<span class="t d" style="top:1429.08px;font-size:13.55px;line-height:13.55px;right:981.4px;">47.7</span>
<span class="t d" style="top:1445.9px;font-size:13.55px;line-height:13.55px;right:981.4px;">55.6</span>
<span class="t d" style="top:1462.71px;font-size:13.55px;line-height:13.55px;right:981.4px;">63.5</span>
<span class="t d" style="top:1479.52px;font-size:13.55px;line-height:13.55px;right:981.4px;">66.7</span>
<span class="t d" style="top:1513.14px;font-size:13.55px;line-height:13.55px;right:981.4px;">69.9</span>
<span class="t d" style="top:1529.95px;font-size:13.55px;line-height:13.55px;right:981.4px;">76.2</span>
<span class="t d" style="top:1546.77px;font-size:13.55px;line-height:13.55px;right:981.4px;">82.6</span>
<span class="t d" style="top:1563.58px;font-size:13.55px;line-height:13.55px;right:981.4px;">88.9</span>
<span class="t d" style="top:1580.39px;font-size:13.55px;line-height:13.55px;right:981.4px;">101.6</span>
<span class="t d" style="top:1210.03px;font-size:13.55px;line-height:13.55px;right:929.7px;">38</span>
<span class="t d" style="top:1226.81px;font-size:13.55px;line-height:13.55px;right:929.7px;">48</span>
<span class="t d" style="top:1243.59px;font-size:13.55px;line-height:13.55px;right:929.7px;">54</span>
<span class="t d" style="top:1260.37px;font-size:13.55px;line-height:13.55px;right:929.7px;">64</span>
<span class="t d" style="top:1277.15px;font-size:13.55px;line-height:13.55px;right:929.7px;">70</span>
<span class="t d" style="top:1310.71px;font-size:13.55px;line-height:13.55px;right:929.7px;">84</span>
<span class="t d" style="top:1327.49px;font-size:13.55px;line-height:13.55px;right:929.7px;">100</span>
<span class="t d" style="top:1344.27px;font-size:13.55px;line-height:13.55px;right:929.7px;">117</span>
<span class="t d" style="top:1361.05px;font-size:13.55px;line-height:13.55px;right:929.7px;">133</span>
<span class="t d" style="top:1377.83px;font-size:13.55px;line-height:13.55px;right:929.7px;">152</span>
<span class="t d" style="top:1411.39px;font-size:13.55px;line-height:13.55px;right:929.7px;">189</span>
<span class="t d" style="top:1428.17px;font-size:13.55px;line-height:13.55px;right:929.7px;">222</span>
<span class="t d" style="top:1444.95px;font-size:13.55px;line-height:13.55px;right:929.7px;">273</span>
<span class="t d" style="top:1461.73px;font-size:13.55px;line-height:13.55px;right:929.7px;">343</span>
<span class="t d" style="top:1478.51px;font-size:13.55px;line-height:13.55px;right:929.7px;">400</span>
<span class="t d" style="top:1512.07px;font-size:13.55px;line-height:13.55px;right:929.7px;">432</span>
<span class="t d" style="top:1528.85px;font-size:13.55px;line-height:13.55px;right:929.7px;">495</span>
<span class="t d" style="top:1545.63px;font-size:13.55px;line-height:13.55px;right:929.7px;">546</span>
<span class="t d" style="top:1562.41px;font-size:13.55px;line-height:13.55px;right:929.7px;">610</span>
<span class="t d" style="top:1579.19px;font-size:13.55px;line-height:13.55px;right:929.7px;">718</span>
<span class="t d" style="top:1210.53px;font-size:13.55px;line-height:13.55px;right:870.4px;">66.7</span>
<span class="t d" style="top:1227.31px;font-size:13.55px;line-height:13.55px;right:870.4px;">82.6</span>
<span class="t d" style="top:1244.09px;font-size:13.55px;line-height:13.55px;right:870.4px;">88.9</span>
<span class="t d" style="top:1260.87px;font-size:13.55px;line-height:13.55px;right:870.4px;">98.4</span>
<span class="t d" style="top:1277.65px;font-size:13.55px;line-height:13.55px;right:870.4px;">114.3</span>
<span class="t d" style="top:1311.21px;font-size:13.55px;line-height:13.55px;right:870.4px;">127.0</span>
<span class="t d" style="top:1327.99px;font-size:13.55px;line-height:13.55px;right:870.4px;">149.2</span>
<span class="t d" style="top:1344.77px;font-size:13.55px;line-height:13.55px;right:870.4px;">168.3</span>
<span class="t d" style="top:1361.55px;font-size:13.55px;line-height:13.55px;right:870.4px;">184.2</span>
<span class="t d" style="top:1378.33px;font-size:13.55px;line-height:13.55px;right:870.4px;">215.9</span>
<span class="t d" style="top:1411.89px;font-size:13.55px;line-height:13.55px;right:870.4px;">266.7</span>
<span class="t d" style="top:1428.67px;font-size:13.55px;line-height:13.55px;right:870.4px;">292.1</span>
<span class="t d" style="top:1445.45px;font-size:13.55px;line-height:13.55px;right:870.4px;">349.2</span>
<span class="t d" style="top:1462.23px;font-size:13.55px;line-height:13.55px;right:870.4px;">431.8</span>
<span class="t d" style="top:1479.01px;font-size:13.55px;line-height:13.55px;right:870.4px;">489.0</span>
<span class="t d" style="top:1512.57px;font-size:13.55px;line-height:13.55px;right:870.4px;">527.0</span>
<span class="t d" style="top:1529.35px;font-size:13.55px;line-height:13.55px;right:870.4px;">603.2</span>
<span class="t d" style="top:1546.13px;font-size:13.55px;line-height:13.55px;right:870.4px;">654.0</span>
<span class="t d" style="top:1562.91px;font-size:13.55px;line-height:13.55px;right:870.4px;">723.9</span>
<span class="t d" style="top:1579.69px;font-size:13.55px;line-height:13.55px;right:870.4px;">838.2</span>
<span class="t d" style="top:1209.33px;font-size:13.55px;line-height:13.55px;right:821.7px;">15.9</span>
<span class="t d" style="top:1226.11px;font-size:13.55px;line-height:13.55px;right:821.7px;">19.1</span>
<span class="t d" style="top:1242.89px;font-size:13.55px;line-height:13.55px;right:821.7px;">19.1</span>
<span class="t d" style="top:1259.67px;font-size:13.55px;line-height:13.55px;right:821.7px;">19.1</span>
<span class="t d" style="top:1276.45px;font-size:13.55px;line-height:13.55px;right:821.7px;">22.3</span>
<span class="t d" style="top:1310.01px;font-size:13.55px;line-height:13.55px;right:821.7px;">19.1</span>
<span class="t d" style="top:1326.79px;font-size:13.55px;line-height:13.55px;right:821.7px;">22.3</span>
<span class="t d" style="top:1343.57px;font-size:13.55px;line-height:13.55px;right:821.7px;">22.3</span>
<span class="t d" style="top:1360.35px;font-size:13.55px;line-height:13.55px;right:821.7px;">25.4</span>
<span class="t d" style="top:1377.13px;font-size:13.55px;line-height:13.55px;right:821.7px;">25.4</span>
<span class="t d" style="top:1410.69px;font-size:13.55px;line-height:13.55px;right:821.7px;">28.6</span>
<span class="t d" style="top:1427.47px;font-size:13.55px;line-height:13.55px;right:821.7px;">28.6</span>
<span class="t d" style="top:1444.25px;font-size:13.55px;line-height:13.55px;right:821.7px;">31.8</span>
<span class="t d" style="top:1461.03px;font-size:13.55px;line-height:13.55px;right:821.7px;">35.0</span>
<span class="t d" style="top:1477.81px;font-size:13.55px;line-height:13.55px;right:821.7px;">35.0</span>
<span class="t d" style="top:1511.37px;font-size:13.55px;line-height:13.55px;right:821.7px;">38.1</span>
<span class="t d" style="top:1528.15px;font-size:13.55px;line-height:13.55px;right:821.7px;">41.3</span>
<span class="t d" style="top:1544.93px;font-size:13.55px;line-height:13.55px;right:821.7px;">44.5</span>
<span class="t d" style="top:1561.71px;font-size:13.55px;line-height:13.55px;right:821.7px;">44.5</span>
<span class="t d" style="top:1578.49px;font-size:13.55px;line-height:13.55px;right:821.7px;">50.8</span>
<span class="t d" style="top:1208.53px;font-size:13.55px;line-height:13.55px;right:773.5px;">4</span>
<span class="t d" style="top:1225.31px;font-size:13.55px;line-height:13.55px;right:773.5px;">4</span>
<span class="t d" style="top:1242.09px;font-size:13.55px;line-height:13.55px;right:773.5px;">4</span>
<span class="t d" style="top:1258.87px;font-size:13.55px;line-height:13.55px;right:773.5px;">4</span>
<span class="t d" style="top:1275.65px;font-size:13.55px;line-height:13.55px;right:773.5px;">4</span>
<span class="t d" style="top:1309.21px;font-size:13.55px;line-height:13.55px;right:773.5px;">8</span>
<span class="t d" style="top:1325.99px;font-size:13.55px;line-height:13.55px;right:773.5px;">8</span>
<span class="t d" style="top:1342.77px;font-size:13.55px;line-height:13.55px;right:773.5px;">8</span>
<span class="t d" style="top:1359.55px;font-size:13.55px;line-height:13.55px;right:773.5px;">8</span>
<span class="t d" style="top:1376.33px;font-size:13.55px;line-height:13.55px;right:773.5px;">8</span>
<span class="t d" style="top:1409.89px;font-size:13.55px;line-height:13.55px;right:773.5px;">8</span>
<span class="t d" style="top:1426.67px;font-size:13.55px;line-height:13.55px;right:773.5px;">12</span>
<span class="t d" style="top:1443.45px;font-size:13.55px;line-height:13.55px;right:773.5px;">12</span>
<span class="t d" style="top:1460.23px;font-size:13.55px;line-height:13.55px;right:773.5px;">16</span>
<span class="t d" style="top:1477.01px;font-size:13.55px;line-height:13.55px;right:773.5px;">20</span>
<span class="t d" style="top:1510.57px;font-size:13.55px;line-height:13.55px;right:773.5px;">20</span>
<span class="t d" style="top:1527.35px;font-size:13.55px;line-height:13.55px;right:773.5px;">20</span>
<span class="t d" style="top:1544.13px;font-size:13.55px;line-height:13.55px;right:773.5px;">20</span>
<span class="t d" style="top:1560.91px;font-size:13.55px;line-height:13.55px;right:773.5px;">24</span>
<span class="t d" style="top:1577.69px;font-size:13.55px;line-height:13.55px;right:773.5px;">24</span>
<span class="t d" style="top:1208.83px;font-size:13.55px;line-height:13.55px;right:711.5px;">21.3</span>
<span class="t d" style="top:1225.64px;font-size:13.55px;line-height:13.55px;right:711.5px;">26.7</span>
<span class="t d" style="top:1242.46px;font-size:13.55px;line-height:13.55px;right:711.5px;">33.4</span>
<span class="t d" style="top:1259.27px;font-size:13.55px;line-height:13.55px;right:711.5px;">42.2</span>
<span class="t d" style="top:1276.09px;font-size:13.55px;line-height:13.55px;right:711.5px;">48.3</span>
<span class="t d" style="top:1309.71px;font-size:13.55px;line-height:13.55px;right:711.5px;">60.3</span>
<span class="t d" style="top:1326.53px;font-size:13.55px;line-height:13.55px;right:711.5px;">73.0</span>
<span class="t d" style="top:1343.34px;font-size:13.55px;line-height:13.55px;right:711.5px;">88.9</span>
<span class="t d" style="top:1360.16px;font-size:13.55px;line-height:13.55px;right:711.5px;">101.6</span>
<span class="t d" style="top:1376.97px;font-size:13.55px;line-height:13.55px;right:711.5px;">114.3</span>
<span class="t d" style="top:1410.6px;font-size:13.55px;line-height:13.55px;right:711.5px;">141.3</span>
<span class="t d" style="top:1427.41px;font-size:13.55px;line-height:13.55px;right:711.5px;">168.3</span>
<span class="t d" style="top:1444.23px;font-size:13.55px;line-height:13.55px;right:711.5px;">219.1</span>
<span class="t d" style="top:1461.04px;font-size:13.55px;line-height:13.55px;right:711.5px;">273.0</span>
<span class="t d" style="top:1477.86px;font-size:13.55px;line-height:13.55px;right:711.5px;">323.8</span>
<span class="t d" style="top:1511.48px;font-size:13.55px;line-height:13.55px;right:711.5px;">355.6</span>
<span class="t d" style="top:1528.3px;font-size:13.55px;line-height:13.55px;right:711.5px;">406.4</span>
<span class="t d" style="top:1545.11px;font-size:13.55px;line-height:13.55px;right:711.5px;">457.0</span>
<span class="t d" style="top:1561.93px;font-size:13.55px;line-height:13.55px;right:711.5px;">508.0</span>
<span class="t d" style="top:1578.74px;font-size:13.55px;line-height:13.55px;right:711.5px;">610.0</span>
<span class="t d" style="top:1208.53px;font-size:13.55px;line-height:13.55px;right:667.7px;">22</span>
<span class="t d" style="top:1225.25px;font-size:13.55px;line-height:13.55px;right:667.7px;">25</span>
<span class="t d" style="top:1241.98px;font-size:13.55px;line-height:13.55px;right:667.7px;">27</span>
<span class="t d" style="top:1258.7px;font-size:13.55px;line-height:13.55px;right:667.7px;">29</span>
<span class="t d" style="top:1275.42px;font-size:13.55px;line-height:13.55px;right:667.7px;">32</span>
<span class="t d" style="top:1308.87px;font-size:13.55px;line-height:13.55px;right:667.7px;">37</span>
<span class="t d" style="top:1325.59px;font-size:13.55px;line-height:13.55px;right:667.7px;">41</span>
<span class="t d" style="top:1342.32px;font-size:13.55px;line-height:13.55px;right:667.7px;">46</span>
<span class="t d" style="top:1359.04px;font-size:13.55px;line-height:13.55px;right:667.7px;">49</span>
<span class="t d" style="top:1375.76px;font-size:13.55px;line-height:13.55px;right:667.7px;">54</span>
<span class="t d" style="top:1409.21px;font-size:13.55px;line-height:13.55px;right:667.7px;">60</span>
<span class="t d" style="top:1425.93px;font-size:13.55px;line-height:13.55px;right:667.7px;">67</span>
<span class="t d" style="top:1442.65px;font-size:13.55px;line-height:13.55px;right:667.7px;">76</span>
<span class="t d" style="top:1459.38px;font-size:13.55px;line-height:13.55px;right:667.7px;">86</span>
<span class="t d" style="top:1476.1px;font-size:13.55px;line-height:13.55px;right:667.7px;">92</span>
<span class="t d" style="top:1509.55px;font-size:13.55px;line-height:13.55px;right:667.7px;">94</span>
<span class="t d" style="top:1526.27px;font-size:13.55px;line-height:13.55px;right:667.7px;">106</span>
<span class="t d" style="top:1542.99px;font-size:13.55px;line-height:13.55px;right:667.7px;">117</span>
<span class="t d" style="top:1559.72px;font-size:13.55px;line-height:13.55px;right:667.7px;">127</span>
<span class="t d" style="top:1576.44px;font-size:13.55px;line-height:13.55px;right:667.7px;">140</span>
<span class="t d" style="top:1209.83px;font-size:13.55px;line-height:13.55px;right:610.5px;">22</span>
<span class="t d" style="top:1226.61px;font-size:13.55px;line-height:13.55px;right:610.5px;">25</span>
<span class="t d" style="top:1243.39px;font-size:13.55px;line-height:13.55px;right:610.5px;">27</span>
<span class="t d" style="top:1260.17px;font-size:13.55px;line-height:13.55px;right:610.5px;">29</span>
<span class="t d" style="top:1276.95px;font-size:13.55px;line-height:13.55px;right:610.5px;">32</span>
<span class="t d" style="top:1310.51px;font-size:13.55px;line-height:13.55px;right:610.5px;">37</span>
<span class="t d" style="top:1327.29px;font-size:13.55px;line-height:13.55px;right:610.5px;">41</span>
<span class="t d" style="top:1344.07px;font-size:13.55px;line-height:13.55px;right:610.5px;">46</span>
<span class="t d" style="top:1360.85px;font-size:13.55px;line-height:13.55px;right:610.5px;">49</span>
<span class="t d" style="top:1377.63px;font-size:13.55px;line-height:13.55px;right:610.5px;">51</span>
<span class="t d" style="top:1411.19px;font-size:13.55px;line-height:13.55px;right:610.5px;">54</span>
<span class="t d" style="top:1427.97px;font-size:13.55px;line-height:13.55px;right:610.5px;">57</span>
<span class="t d" style="top:1444.75px;font-size:13.55px;line-height:13.55px;right:610.5px;">68</span>
<span class="t d" style="top:1461.53px;font-size:13.55px;line-height:13.55px;right:610.5px;">102</span>
<span class="t d" style="top:1478.31px;font-size:13.55px;line-height:13.55px;right:610.5px;">108</span>
<span class="t d" style="top:1511.87px;font-size:13.55px;line-height:13.55px;right:610.5px;">117</span>
<span class="t d" style="top:1528.65px;font-size:13.55px;line-height:13.55px;right:610.5px;">127</span>
<span class="t d" style="top:1545.43px;font-size:13.55px;line-height:13.55px;right:610.5px;">137</span>
<span class="t d" style="top:1562.21px;font-size:13.55px;line-height:13.55px;right:610.5px;">146</span>
<span class="t d" style="top:1578.99px;font-size:13.55px;line-height:13.55px;right:610.5px;">159</span>
<span class="t d" style="top:1209.83px;font-size:13.55px;line-height:13.55px;right:555.2px;">52</span>
<span class="t d" style="top:1226.66px;font-size:13.55px;line-height:13.55px;right:555.2px;">57</span>
<span class="t d" style="top:1243.48px;font-size:13.55px;line-height:13.55px;right:555.2px;">62</span>
<span class="t d" style="top:1260.31px;font-size:13.55px;line-height:13.55px;right:555.2px;">67</span>
<span class="t d" style="top:1277.13px;font-size:13.55px;line-height:13.55px;right:555.2px;">70</span>
<span class="t d" style="top:1310.78px;font-size:13.55px;line-height:13.55px;right:555.2px;">73</span>
<span class="t d" style="top:1327.61px;font-size:13.55px;line-height:13.55px;right:555.2px;">79</span>
<span class="t d" style="top:1344.43px;font-size:13.55px;line-height:13.55px;right:555.2px;">83</span>
<span class="t d" style="top:1361.26px;font-size:13.55px;line-height:13.55px;right:555.2px;">86</span>
<span class="t d" style="top:1378.08px;font-size:13.55px;line-height:13.55px;right:555.2px;">102</span>
<span class="t d" style="top:1411.74px;font-size:13.55px;line-height:13.55px;right:555.2px;">114</span>
<span class="t d" style="top:1428.56px;font-size:13.55px;line-height:13.55px;right:555.2px;">117</span>
<span class="t d" style="top:1445.39px;font-size:13.55px;line-height:13.55px;right:555.2px;">133</span>
<span class="t d" style="top:1462.21px;font-size:13.55px;line-height:13.55px;right:555.2px;">152</span>
<span class="t d" style="top:1479.04px;font-size:13.55px;line-height:13.55px;right:555.2px;">156</span>
<span class="t d" style="top:1512.69px;font-size:13.55px;line-height:13.55px;right:555.2px;">165</span>
<span class="t d" style="top:1529.51px;font-size:13.55px;line-height:13.55px;right:555.2px;">178</span>
<span class="t d" style="top:1546.34px;font-size:13.55px;line-height:13.55px;right:555.2px;">184</span>
<span class="t d" style="top:1563.16px;font-size:13.55px;line-height:13.55px;right:555.2px;">190</span>
<span class="t d" style="top:1579.99px;font-size:13.55px;line-height:13.55px;right:555.2px;">203</span>
<span class="t d" style="top:1209.03px;font-size:13.55px;line-height:13.55px;right:507.2px;">16</span>
<span class="t d" style="top:1225.81px;font-size:13.55px;line-height:13.55px;right:507.2px;">16</span>
<span class="t d" style="top:1242.59px;font-size:13.55px;line-height:13.55px;right:507.2px;">18</span>
<span class="t d" style="top:1259.37px;font-size:13.55px;line-height:13.55px;right:507.2px;">21</span>
<span class="t d" style="top:1276.15px;font-size:13.55px;line-height:13.55px;right:507.2px;">23</span>
<span class="t d" style="top:1309.71px;font-size:13.55px;line-height:13.55px;right:507.2px;">29</span>
<span class="t d" style="top:1326.49px;font-size:13.55px;line-height:13.55px;right:507.2px;">32</span>
<span class="t d" style="top:1343.27px;font-size:13.55px;line-height:13.55px;right:507.2px;">35</span>
<span class="t d" style="top:1360.05px;font-size:13.55px;line-height:13.55px;right:507.2px;">40</span>
<span class="t d" style="top:1376.83px;font-size:13.55px;line-height:13.55px;right:507.2px;">42</span>
<span class="t d" style="top:1410.39px;font-size:13.55px;line-height:13.55px;right:507.2px;">48</span>
<span class="t d" style="top:1427.17px;font-size:13.55px;line-height:13.55px;right:507.2px;">51</span>
<span class="t d" style="top:1443.95px;font-size:13.55px;line-height:13.55px;right:507.2px;">58</span>
<span class="t d" style="top:1460.73px;font-size:13.55px;line-height:13.55px;right:507.2px;">66</span>
<span class="t d" style="top:1477.51px;font-size:13.55px;line-height:13.55px;right:507.2px;">70</span>
<span class="t d" style="top:1511.07px;font-size:13.55px;line-height:13.55px;right:507.2px;">74</span>
<span class="t d" style="top:1527.85px;font-size:13.55px;line-height:13.55px;right:507.2px;">78</span>
<span class="t d" style="top:1544.63px;font-size:13.55px;line-height:13.55px;right:507.2px;">80</span>
<span class="t d" style="top:1561.41px;font-size:13.55px;line-height:13.55px;right:507.2px;">83</span>
<span class="t d" style="top:1578.19px;font-size:13.55px;line-height:13.55px;right:507.2px;">93</span>
<span class="t d" style="top:1209.03px;font-size:13.55px;line-height:13.55px;right:443.8px;">22.2</span>
<span class="t d" style="top:1225.83px;font-size:13.55px;line-height:13.55px;right:443.8px;">27.7</span>
<span class="t d" style="top:1242.64px;font-size:13.55px;line-height:13.55px;right:443.8px;">34.5</span>
<span class="t d" style="top:1259.44px;font-size:13.55px;line-height:13.55px;right:443.8px;">43.2</span>
<span class="t d" style="top:1276.24px;font-size:13.55px;line-height:13.55px;right:443.8px;">49.5</span>
<span class="t d" style="top:1309.85px;font-size:13.55px;line-height:13.55px;right:443.8px;">61.9</span>
<span class="t d" style="top:1326.65px;font-size:13.55px;line-height:13.55px;right:443.8px;">74.6</span>
<span class="t d" style="top:1343.45px;font-size:13.55px;line-height:13.55px;right:443.8px;">90.7</span>
<span class="t d" style="top:1360.25px;font-size:13.55px;line-height:13.55px;right:443.8px;">103.4</span>
<span class="t d" style="top:1377.06px;font-size:13.55px;line-height:13.55px;right:443.8px;">116.1</span>
<span class="t d" style="top:1410.66px;font-size:13.55px;line-height:13.55px;right:443.8px;">143.8</span>
<span class="t d" style="top:1427.47px;font-size:13.55px;line-height:13.55px;right:443.8px;">170.7</span>
<span class="t d" style="top:1444.27px;font-size:13.55px;line-height:13.55px;right:443.8px;">221.5</span>
<span class="t d" style="top:1461.07px;font-size:13.55px;line-height:13.55px;right:443.8px;">276.2</span>
<span class="t d" style="top:1477.87px;font-size:13.55px;line-height:13.55px;right:443.8px;">327.0</span>
<span class="t d" style="top:1511.48px;font-size:13.55px;line-height:13.55px;right:443.8px;">359.2</span>
<span class="t d" style="top:1528.28px;font-size:13.55px;line-height:13.55px;right:443.8px;">410.5</span>
<span class="t d" style="top:1545.08px;font-size:13.55px;line-height:13.55px;right:443.8px;">461.8</span>
<span class="t d" style="top:1561.89px;font-size:13.55px;line-height:13.55px;right:443.8px;">513.1</span>
<span class="t d" style="top:1578.69px;font-size:13.55px;line-height:13.55px;right:443.8px;">616.0</span>
<span class="t d" style="top:1208.53px;font-size:13.55px;line-height:13.55px;right:391.5px;">22.9</span>
<span class="t d" style="top:1225.31px;font-size:13.55px;line-height:13.55px;right:391.5px;">28.2</span>
<span class="t d" style="top:1242.09px;font-size:13.55px;line-height:13.55px;right:391.5px;">34.9</span>
<span class="t d" style="top:1258.87px;font-size:13.55px;line-height:13.55px;right:391.5px;">43.7</span>
<span class="t d" style="top:1275.65px;font-size:13.55px;line-height:13.55px;right:391.5px;">50.0</span>
<span class="t d" style="top:1309.21px;font-size:13.55px;line-height:13.55px;right:391.5px;">62.5</span>
<span class="t d" style="top:1325.99px;font-size:13.55px;line-height:13.55px;right:391.5px;">75.4</span>
<span class="t d" style="top:1342.77px;font-size:13.55px;line-height:13.55px;right:391.5px;">91.4</span>
<span class="t d" style="top:1359.55px;font-size:13.55px;line-height:13.55px;right:391.5px;">104.1</span>
<span class="t d" style="top:1376.33px;font-size:13.55px;line-height:13.55px;right:391.5px;">116.8</span>
<span class="t d" style="top:1409.89px;font-size:13.55px;line-height:13.55px;right:391.5px;">144.4</span>
<span class="t d" style="top:1426.67px;font-size:13.55px;line-height:13.55px;right:391.5px;">171.4</span>
<span class="t d" style="top:1443.45px;font-size:13.55px;line-height:13.55px;right:391.5px;">222.2</span>
<span class="t d" style="top:1460.23px;font-size:13.55px;line-height:13.55px;right:391.5px;">277.4</span>
<span class="t d" style="top:1477.01px;font-size:13.55px;line-height:13.55px;right:391.5px;">328.2</span>
<span class="t d" style="top:1510.57px;font-size:13.55px;line-height:13.55px;right:391.5px;">360.2</span>
<span class="t d" style="top:1527.35px;font-size:13.55px;line-height:13.55px;right:391.5px;">411.2</span>
<span class="t d" style="top:1544.13px;font-size:13.55px;line-height:13.55px;right:391.5px;">462.3</span>
<span class="t d" style="top:1560.91px;font-size:13.55px;line-height:13.55px;right:391.5px;">514.4</span>
<span class="t d" style="top:1577.69px;font-size:13.55px;line-height:13.55px;right:391.5px;">616.0</span>
<span class="t d" style="top:1207.83px;font-size:13.55px;line-height:13.55px;right:292.7px;">3</span>
<span class="t d" style="top:1224.64px;font-size:13.55px;line-height:13.55px;right:292.7px;">3</span>
<span class="t d" style="top:1241.46px;font-size:13.55px;line-height:13.55px;right:292.7px;">3</span>
<span class="t d" style="top:1258.27px;font-size:13.55px;line-height:13.55px;right:292.7px;">5</span>
<span class="t d" style="top:1275.09px;font-size:13.55px;line-height:13.55px;right:292.7px;">6</span>
<span class="t d" style="top:1308.71px;font-size:13.55px;line-height:13.55px;right:292.7px;">8</span>
<span class="t d" style="top:1325.53px;font-size:13.55px;line-height:13.55px;right:292.7px;">8</span>
<span class="t d" style="top:1342.34px;font-size:13.55px;line-height:13.55px;right:292.7px;">10</span>
<span class="t d" style="top:1359.16px;font-size:13.55px;line-height:13.55px;right:292.7px;">10</span>
<span class="t d" style="top:1375.97px;font-size:13.55px;line-height:13.55px;right:292.7px;">11</span>
<span class="t d" style="top:1409.6px;font-size:13.55px;line-height:13.55px;right:292.7px;">11</span>
<span class="t d" style="top:1426.41px;font-size:13.55px;line-height:13.55px;right:292.7px;">13</span>
<span class="t d" style="top:1443.23px;font-size:13.55px;line-height:13.55px;right:292.7px;">13</span>
<span class="t d" style="top:1460.04px;font-size:13.55px;line-height:13.55px;right:292.7px;">13</span>
<span class="t d" style="top:1476.86px;font-size:13.55px;line-height:13.55px;right:292.7px;">13</span>
<span class="t d" style="top:1510.48px;font-size:13.55px;line-height:13.55px;right:292.7px;">13</span>
<span class="t d" style="top:1527.3px;font-size:13.55px;line-height:13.55px;right:292.7px;">13</span>
<span class="t d" style="top:1544.11px;font-size:13.55px;line-height:13.55px;right:292.7px;">13</span>
<span class="t d" style="top:1560.93px;font-size:13.55px;line-height:13.55px;right:292.7px;">13</span>
<span class="t d" style="top:1577.74px;font-size:13.55px;line-height:13.55px;right:292.7px;">13</span>
<span class="t d" style="top:1209.03px;font-size:13.55px;line-height:13.55px;right:230.5px;">23.6</span>
<span class="t d" style="top:1225.87px;font-size:13.55px;line-height:13.55px;right:230.5px;">29.0</span>
<span class="t d" style="top:1242.7px;font-size:13.55px;line-height:13.55px;right:230.5px;">35.8</span>
<span class="t d" style="top:1259.54px;font-size:13.55px;line-height:13.55px;right:230.5px;">44.4</span>
<span class="t d" style="top:1276.38px;font-size:13.55px;line-height:13.55px;right:230.5px;">50.6</span>
<span class="t d" style="top:1310.05px;font-size:13.55px;line-height:13.55px;right:230.5px;">63.5</span>
<span class="t d" style="top:1326.89px;font-size:13.55px;line-height:13.55px;right:230.5px;">76.2</span>
<span class="t d" style="top:1343.72px;font-size:13.55px;line-height:13.55px;right:230.5px;">92.2</span>
<span class="t d" style="top:1360.56px;font-size:13.55px;line-height:13.55px;right:230.5px;">104.9</span>
<span class="t d" style="top:1377.4px;font-size:13.55px;line-height:13.55px;right:230.5px;">117.6</span>
<span class="t d" style="top:1411.07px;font-size:13.55px;line-height:13.55px;right:230.5px;">144.4</span>
<span class="t d" style="top:1427.91px;font-size:13.55px;line-height:13.55px;right:230.5px;">171.4</span>
<span class="t d" style="top:1444.75px;font-size:13.55px;line-height:13.55px;right:230.5px;">222.2</span>
<span class="t d" style="top:1461.58px;font-size:13.55px;line-height:13.55px;right:230.5px;">276.2</span>
<span class="t d" style="top:1478.42px;font-size:13.55px;line-height:13.55px;right:230.5px;">328.6</span>
<span class="t d" style="top:1512.09px;font-size:13.55px;line-height:13.55px;right:230.5px;">360.4</span>
<span class="t d" style="top:1528.93px;font-size:13.55px;line-height:13.55px;right:230.5px;">411.2</span>
<span class="t d" style="top:1545.77px;font-size:13.55px;line-height:13.55px;right:230.5px;">462.0</span>
<span class="t d" style="top:1562.6px;font-size:13.55px;line-height:13.55px;right:230.5px;">512.8</span>
<span class="t d" style="top:1579.44px;font-size:13.55px;line-height:13.55px;right:230.5px;">614.4</span>
<span class="t d" style="top:1208.53px;font-size:13.55px;line-height:13.55px;right:185.5px;">10</span>
<span class="t d" style="top:1225.37px;font-size:13.55px;line-height:13.55px;right:185.5px;">11</span>
<span class="t d" style="top:1242.2px;font-size:13.55px;line-height:13.55px;right:185.5px;">13</span>
<span class="t d" style="top:1259.04px;font-size:13.55px;line-height:13.55px;right:185.5px;">14</span>
<span class="t d" style="top:1275.88px;font-size:13.55px;line-height:13.55px;right:185.5px;">16</span>
<span class="t d" style="top:1309.55px;font-size:13.55px;line-height:13.55px;right:185.5px;">17</span>
<span class="t d" style="top:1326.39px;font-size:13.55px;line-height:13.55px;right:185.5px;">19</span>
<span class="t d" style="top:1343.22px;font-size:13.55px;line-height:13.55px;right:185.5px;">21</span>
<span class="t d dots" style="top:1360.06px;font-size:13.55px;line-height:13.55px;right:185.5px;">....</span>
<span class="t d dots" style="top:1376.9px;font-size:13.55px;line-height:13.55px;right:185.5px;">....</span>
<span class="t d dots" style="top:1410.57px;font-size:13.55px;line-height:13.55px;right:185.5px;">....</span>
<span class="t d dots" style="top:1427.41px;font-size:13.55px;line-height:13.55px;right:185.5px;">....</span>
<span class="t d dots" style="top:1444.25px;font-size:13.55px;line-height:13.55px;right:185.5px;">....</span>
<span class="t d dots" style="top:1461.08px;font-size:13.55px;line-height:13.55px;right:185.5px;">....</span>
<span class="t d dots" style="top:1477.92px;font-size:13.55px;line-height:13.55px;right:185.5px;">....</span>
<span class="t d dots" style="top:1511.59px;font-size:13.55px;line-height:13.55px;right:185.5px;">....</span>
<span class="t d dots" style="top:1528.43px;font-size:13.55px;line-height:13.55px;right:185.5px;">....</span>
<span class="t d dots" style="top:1545.27px;font-size:13.55px;line-height:13.55px;right:185.5px;">....</span>
<span class="t d dots" style="top:1562.1px;font-size:13.55px;line-height:13.55px;right:185.5px;">....</span>
<span class="t d dots" style="top:1578.94px;font-size:13.55px;line-height:13.55px;right:185.5px;">....</span>
<span class="t d" style="top:1208.53px;font-size:13.55px;line-height:13.55px;right:124.4px;">34.9</span>
<span class="t d" style="top:1225.37px;font-size:13.55px;line-height:13.55px;right:124.4px;">42.9</span>
<span class="t d" style="top:1242.2px;font-size:13.55px;line-height:13.55px;right:124.4px;">50.8</span>
<span class="t d" style="top:1259.04px;font-size:13.55px;line-height:13.55px;right:124.4px;">63.5</span>
<span class="t d" style="top:1275.88px;font-size:13.55px;line-height:13.55px;right:124.4px;">73.0</span>
<span class="t d" style="top:1309.55px;font-size:13.55px;line-height:13.55px;right:124.4px;">92.1</span>
<span class="t d" style="top:1326.39px;font-size:13.55px;line-height:13.55px;right:124.4px;">104.8</span>
<span class="t d" style="top:1343.22px;font-size:13.55px;line-height:13.55px;right:124.4px;">127.0</span>
<span class="t d" style="top:1360.06px;font-size:13.55px;line-height:13.55px;right:124.4px;">139.7</span>
<span class="t d" style="top:1376.9px;font-size:13.55px;line-height:13.55px;right:124.4px;">157.2</span>
<span class="t d" style="top:1410.57px;font-size:13.55px;line-height:13.55px;right:124.4px;">185.7</span>
<span class="t d" style="top:1427.41px;font-size:13.55px;line-height:13.55px;right:124.4px;">215.9</span>
<span class="t d" style="top:1444.25px;font-size:13.55px;line-height:13.55px;right:124.4px;">269.9</span>
<span class="t d" style="top:1461.08px;font-size:13.55px;line-height:13.55px;right:124.4px;">323.8</span>
<span class="t d" style="top:1477.92px;font-size:13.55px;line-height:13.55px;right:124.4px;">381.0</span>
<span class="t d" style="top:1511.59px;font-size:13.55px;line-height:13.55px;right:124.4px;">412.8</span>
<span class="t d" style="top:1528.43px;font-size:13.55px;line-height:13.55px;right:124.4px;">469.9</span>
<span class="t d" style="top:1545.27px;font-size:13.55px;line-height:13.55px;right:124.4px;">533.4</span>
<span class="t d" style="top:1562.1px;font-size:13.55px;line-height:13.55px;right:124.4px;">584.2</span>
<span class="t d" style="top:1578.94px;font-size:13.55px;line-height:13.55px;right:124.4px;">692.2</span>
<span class="t d" style="top:1369.09px;font-size:13.6px;line-height:13.6px;left:885.5px;transform:translateX(-50%) scaleX(0.835);transform-origin:center center;">To be</span>
<span class="t d" style="top:1386.19px;font-size:13.6px;line-height:13.6px;left:885.5px;transform:translateX(-50%) scaleX(0.835);transform-origin:center center;">Specified</span>
<span class="t d" style="top:1403.29px;font-size:13.6px;line-height:13.6px;left:885.5px;transform:translateX(-50%) scaleX(0.835);transform-origin:center center;">by</span>
<span class="t d" style="top:1420.39px;font-size:13.6px;line-height:13.6px;left:885.5px;transform:translateX(-50%) scaleX(0.835);transform-origin:center center;">Purchaser</span>
<div class="b" style="left:30px;top:1636.8px;width:1181px;height:51px;background:#dc2b1c;"></div>
<div class="b" style="left:596.8px;top:1640.8px;width:46.5px;height:43.5px;border-radius:50%;background:#fff"></div>
<span class="t" style="top:1654.54px;font-size:18.5px;line-height:18.5px;left:617.6px;transform:translateX(-50%);transform-origin:center center;color:#222;">4</span>
<p class="t" style="top:1606.93px;font-size:14.73px;line-height:14.73px;left:111.4px;color:#222;">NOTE : (1) Height of RF 7mm</p>
</div>
</body>
</html>
